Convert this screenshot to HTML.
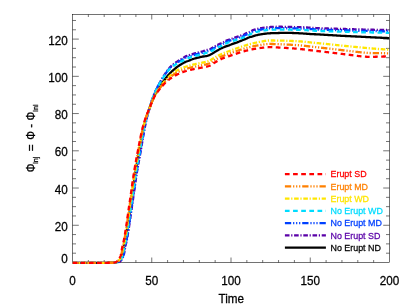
<!DOCTYPE html>
<html><head><meta charset="utf-8"><title>Injected flux</title>
<style>html,body{margin:0;padding:0;background:#fff;}svg{display:block;will-change:transform;}text{font-family:"Liberation Sans",sans-serif;fill:#000;}</style></head><body>
<svg width="407" height="306" viewBox="0 0 407 306">
<defs><clipPath id="c"><rect x="72.5" y="13.5" width="317.0" height="250.4"/></clipPath></defs>
<g stroke="#000" stroke-width="0.55" fill="none">
<rect x="72.5" y="14.5" width="317.0" height="248.0"/>
<path d="M88.35,262.5 v-2.5 M88.35,14.5 v2.5"/>
<path d="M104.20,262.5 v-2.5 M104.20,14.5 v2.5"/>
<path d="M120.05,262.5 v-2.5 M120.05,14.5 v2.5"/>
<path d="M135.90,262.5 v-2.5 M135.90,14.5 v2.5"/>
<path d="M151.75,262.5 v-5.0 M151.75,14.5 v5.0"/>
<path d="M167.60,262.5 v-2.5 M167.60,14.5 v2.5"/>
<path d="M183.45,262.5 v-2.5 M183.45,14.5 v2.5"/>
<path d="M199.30,262.5 v-2.5 M199.30,14.5 v2.5"/>
<path d="M215.15,262.5 v-2.5 M215.15,14.5 v2.5"/>
<path d="M231.00,262.5 v-5.0 M231.00,14.5 v5.0"/>
<path d="M246.85,262.5 v-2.5 M246.85,14.5 v2.5"/>
<path d="M262.70,262.5 v-2.5 M262.70,14.5 v2.5"/>
<path d="M278.55,262.5 v-2.5 M278.55,14.5 v2.5"/>
<path d="M294.40,262.5 v-2.5 M294.40,14.5 v2.5"/>
<path d="M310.25,262.5 v-5.0 M310.25,14.5 v5.0"/>
<path d="M326.10,262.5 v-2.5 M326.10,14.5 v2.5"/>
<path d="M341.95,262.5 v-2.5 M341.95,14.5 v2.5"/>
<path d="M357.80,262.5 v-2.5 M357.80,14.5 v2.5"/>
<path d="M373.65,262.5 v-2.5 M373.65,14.5 v2.5"/>
<path d="M72.5,253.19 h3.5 M389.5,253.19 h-3.5"/>
<path d="M72.5,243.88 h3.5 M389.5,243.88 h-3.5"/>
<path d="M72.5,234.57 h3.5 M389.5,234.57 h-3.5"/>
<path d="M72.5,225.27 h6.3 M389.5,225.27 h-6.3"/>
<path d="M72.5,215.96 h3.5 M389.5,215.96 h-3.5"/>
<path d="M72.5,206.65 h3.5 M389.5,206.65 h-3.5"/>
<path d="M72.5,197.34 h3.5 M389.5,197.34 h-3.5"/>
<path d="M72.5,188.03 h6.3 M389.5,188.03 h-6.3"/>
<path d="M72.5,178.72 h3.5 M389.5,178.72 h-3.5"/>
<path d="M72.5,169.42 h3.5 M389.5,169.42 h-3.5"/>
<path d="M72.5,160.11 h3.5 M389.5,160.11 h-3.5"/>
<path d="M72.5,150.80 h6.3 M389.5,150.80 h-6.3"/>
<path d="M72.5,141.49 h3.5 M389.5,141.49 h-3.5"/>
<path d="M72.5,132.18 h3.5 M389.5,132.18 h-3.5"/>
<path d="M72.5,122.87 h3.5 M389.5,122.87 h-3.5"/>
<path d="M72.5,113.56 h6.3 M389.5,113.56 h-6.3"/>
<path d="M72.5,104.26 h3.5 M389.5,104.26 h-3.5"/>
<path d="M72.5,94.95 h3.5 M389.5,94.95 h-3.5"/>
<path d="M72.5,85.64 h3.5 M389.5,85.64 h-3.5"/>
<path d="M72.5,76.33 h6.3 M389.5,76.33 h-6.3"/>
<path d="M72.5,67.02 h3.5 M389.5,67.02 h-3.5"/>
<path d="M72.5,57.71 h3.5 M389.5,57.71 h-3.5"/>
<path d="M72.5,48.40 h3.5 M389.5,48.40 h-3.5"/>
<path d="M72.5,39.10 h6.3 M389.5,39.10 h-6.3"/>
<path d="M72.5,29.79 h3.5 M389.5,29.79 h-3.5"/>
<path d="M72.5,20.48 h3.5 M389.5,20.48 h-3.5"/>
</g>
<g clip-path="url(#c)" fill="none" stroke-linejoin="round">
<path d="M72.50,262.80 L73.29,262.80 L74.08,262.80 L74.87,262.80 L75.66,262.80 L76.45,262.80 L77.24,262.80 L78.03,262.80 L78.82,262.80 L79.60,262.80 L80.39,262.80 L81.18,262.80 L81.97,262.80 L82.76,262.80 L83.55,262.80 L84.34,262.80 L85.13,262.80 L85.92,262.80 L86.71,262.80 L87.50,262.80 L88.29,262.80 L89.08,262.80 L89.87,262.80 L90.66,262.80 L91.45,262.80 L92.24,262.80 L93.03,262.80 L93.81,262.80 L94.60,262.80 L95.39,262.80 L96.18,262.80 L96.97,262.80 L97.76,262.80 L98.55,262.80 L99.34,262.80 L100.13,262.80 L100.92,262.80 L101.71,262.80 L102.50,262.80 L103.29,262.80 L104.09,262.79 L104.88,262.79 L105.67,262.79 L106.46,262.78 L107.26,262.78 L108.05,262.77 L108.84,262.77 L109.63,262.76 L110.42,262.75 L111.20,262.74 L111.99,262.73 L112.77,262.72 L113.55,262.71 L114.34,262.69 L115.14,262.60 L115.94,262.45 L116.71,262.25 L117.44,262.02 L118.11,261.68 L118.75,261.17 L119.33,260.59 L119.82,260.00 L120.26,259.35 L120.66,258.65 L121.03,257.95 L121.38,257.24 L121.72,256.52 L122.01,255.78 L122.24,255.04 L122.43,254.28 L122.60,253.51 L122.74,252.74 L122.87,251.96 L123.00,251.18 L123.12,250.39 L123.25,249.60 L123.38,248.82 L123.52,248.04 L123.68,247.27 L123.85,246.50 L124.02,245.73 L124.20,244.96 L124.38,244.19 L124.56,243.42 L124.74,242.65 L124.91,241.88 L125.08,241.11 L125.24,240.34 L125.38,239.56 L125.53,238.79 L125.67,238.01 L125.81,237.24 L125.95,236.46 L126.08,235.68 L126.22,234.91 L126.35,234.13 L126.48,233.35 L126.61,232.57 L126.74,231.79 L126.87,231.02 L126.99,230.24 L127.12,229.46 L127.24,228.68 L127.36,227.90 L127.49,227.12 L127.61,226.34 L127.72,225.56 L127.84,224.78 L127.96,224.00 L128.07,223.22 L128.19,222.43 L128.30,221.65 L128.42,220.87 L128.53,220.09 L128.64,219.31 L128.76,218.53 L128.87,217.74 L128.98,216.96 L129.09,216.18 L129.20,215.40 L129.31,214.61 L129.42,213.83 L129.53,213.05 L129.64,212.27 L129.75,211.48 L129.86,210.70 L129.97,209.92 L130.08,209.14 L130.19,208.36 L130.30,207.57 L130.41,206.79 L130.52,206.01 L130.64,205.23 L130.75,204.45 L130.86,203.66 L130.97,202.88 L131.09,202.10 L131.20,201.32 L131.32,200.54 L131.44,199.76 L131.55,198.98 L131.67,198.20 L131.78,197.42 L131.90,196.63 L132.01,195.85 L132.12,195.07 L132.23,194.29 L132.34,193.51 L132.46,192.73 L132.57,191.94 L132.68,191.16 L132.79,190.38 L132.90,189.60 L133.01,188.82 L133.12,188.04 L133.23,187.25 L133.34,186.47 L133.45,185.69 L133.56,184.91 L133.67,184.13 L133.78,183.35 L133.89,182.56 L134.01,181.78 L134.12,181.00 L134.23,180.22 L134.35,179.44 L134.46,178.66 L134.58,177.88 L134.69,177.10 L134.81,176.32 L134.93,175.53 L135.05,174.75 L135.17,173.97 L135.29,173.19 L135.41,172.42 L135.54,171.64 L135.66,170.86 L135.79,170.08 L135.92,169.30 L136.05,168.52 L136.18,167.74 L136.31,166.96 L136.45,166.19 L136.58,165.41 L136.72,164.63 L136.86,163.86 L137.00,163.08 L137.14,162.30 L137.29,161.53 L137.43,160.75 L137.57,159.97 L137.72,159.20 L137.86,158.42 L138.01,157.64 L138.15,156.87 L138.30,156.09 L138.44,155.32 L138.59,154.54 L138.73,153.76 L138.87,152.99 L139.01,152.21 L139.15,151.43 L139.29,150.65 L139.43,149.88 L139.57,149.10 L139.71,148.32 L139.85,147.54 L139.99,146.77 L140.13,145.99 L140.27,145.21 L140.41,144.43 L140.55,143.65 L140.69,142.88 L140.83,142.10 L140.97,141.32 L141.11,140.54 L141.26,139.77 L141.40,138.99 L141.55,138.21 L141.69,137.44 L141.84,136.66 L141.99,135.89 L142.14,135.11 L142.29,134.34 L142.45,133.56 L142.60,132.79 L142.76,132.02 L142.92,131.24 L143.08,130.47 L143.25,129.70 L143.41,128.93 L143.58,128.16 L143.75,127.39 L143.92,126.62 L144.10,125.85 L144.28,125.09 L144.46,124.32 L144.65,123.55 L144.85,122.79 L145.05,122.03 L145.26,121.26 L145.47,120.50 L145.68,119.74 L145.90,118.98 L146.12,118.22 L146.35,117.47 L146.58,116.71 L146.81,115.96 L147.05,115.21 L147.29,114.46 L147.54,113.71 L147.80,112.96 L148.06,112.21 L148.32,111.47 L148.59,110.73 L148.86,109.98 L149.13,109.24 L149.40,108.50 L149.67,107.76 L149.94,107.02 L150.21,106.27 L150.48,105.53 L150.75,104.79 L151.03,104.05 L151.30,103.31 L151.58,102.57 L151.86,101.83 L152.15,101.09 L152.44,100.36 L152.74,99.63 L153.04,98.90 L153.35,98.18 L153.67,97.46 L154.00,96.74 L154.34,96.03 L154.69,95.32 L155.04,94.61 L155.40,93.91 L155.76,93.20 L156.13,92.50 L156.50,91.81 L156.87,91.11 L157.25,90.42 L157.63,89.73 L158.02,89.04 L158.41,88.35 L158.82,87.67 L159.23,87.00 L159.65,86.33 L160.08,85.68 L160.53,85.03 L160.99,84.39 L161.47,83.76 L161.95,83.14 L162.44,82.52 L162.94,81.90 L163.43,81.28 L163.92,80.66 L164.40,80.03 L164.88,79.41 L165.36,78.77 L165.83,78.14 L166.31,77.51 L166.80,76.89 L167.30,76.28 L167.80,75.68 L168.32,75.09 L168.85,74.50 L169.39,73.92 L169.94,73.35 L170.50,72.79 L171.06,72.23 L171.62,71.69 L172.19,71.14 L172.77,70.60 L173.36,70.07 L173.95,69.54 L174.54,69.02 L175.15,68.51 L175.76,68.01 L176.38,67.52 L177.00,67.05 L177.64,66.59 L178.29,66.14 L178.94,65.70 L179.61,65.26 L180.28,64.84 L180.95,64.42 L181.63,64.02 L182.31,63.62 L183.00,63.23 L183.69,62.84 L184.38,62.47 L185.09,62.11 L185.81,61.78 L186.54,61.50 L187.29,61.24 L188.04,61.00 L188.78,60.73 L189.51,60.42 L190.23,60.10 L190.95,59.77 L191.68,59.48 L192.42,59.22 L193.17,58.98 L193.93,58.74 L194.69,58.52 L195.45,58.31 L196.21,58.11 L196.98,57.91 L197.74,57.71 L198.51,57.52 L199.28,57.33 L200.04,57.15 L200.81,56.97 L201.59,56.80 L202.36,56.64 L203.14,56.49 L203.91,56.37 L204.70,56.27 L205.48,56.18 L206.26,56.05 L207.03,55.88 L207.80,55.66 L208.55,55.42 L209.28,55.15 L210.00,54.83 L210.70,54.46 L211.40,54.08 L212.09,53.69 L212.76,53.29 L213.43,52.86 L214.10,52.43 L214.77,52.02 L215.45,51.62 L216.14,51.23 L216.83,50.85 L217.52,50.46 L218.20,50.07 L218.87,49.65 L219.55,49.24 L220.23,48.85 L220.93,48.49 L221.65,48.16 L222.37,47.85 L223.10,47.55 L223.83,47.24 L224.56,46.93 L225.29,46.62 L226.02,46.32 L226.75,46.04 L227.50,45.79 L228.25,45.55 L229.01,45.31 L229.75,45.05 L230.49,44.76 L231.22,44.47 L231.95,44.18 L232.70,43.91 L233.44,43.64 L234.19,43.38 L234.93,43.12 L235.68,42.87 L236.42,42.60 L237.17,42.34 L237.90,42.06 L238.64,41.77 L239.37,41.48 L240.10,41.18 L240.83,40.88 L241.56,40.58 L242.29,40.27 L243.02,39.97 L243.75,39.68 L244.49,39.39 L245.23,39.11 L245.96,38.82 L246.68,38.50 L247.40,38.15 L248.11,37.81 L248.83,37.49 L249.57,37.21 L250.32,36.99 L251.09,36.80 L251.86,36.61 L252.62,36.40 L253.37,36.17 L254.13,35.93 L254.88,35.70 L255.64,35.47 L256.40,35.25 L257.16,35.05 L257.93,34.87 L258.70,34.71 L259.47,34.56 L260.25,34.42 L261.03,34.29 L261.81,34.17 L262.59,34.05 L263.37,33.94 L264.16,33.84 L264.94,33.74 L265.72,33.65 L266.51,33.56 L267.30,33.48 L268.08,33.41 L268.87,33.34 L269.66,33.30 L270.44,33.26 L271.23,33.22 L272.02,33.19 L272.81,33.17 L273.60,33.14 L274.39,33.12 L275.18,33.10 L275.97,33.08 L276.76,33.05 L277.55,33.03 L278.34,33.01 L279.12,32.98 L279.91,32.95 L280.70,32.92 L281.49,32.89 L282.28,32.86 L283.07,32.83 L283.86,32.81 L284.65,32.80 L285.44,32.80 L286.23,32.81 L287.02,32.82 L287.80,32.84 L288.59,32.86 L289.38,32.88 L290.17,32.90 L290.96,32.93 L291.75,32.95 L292.54,32.98 L293.33,33.00 L294.12,33.03 L294.91,33.06 L295.70,33.10 L296.48,33.13 L297.27,33.17 L298.06,33.20 L298.85,33.24 L299.64,33.28 L300.43,33.32 L301.21,33.37 L302.00,33.42 L302.79,33.47 L303.58,33.53 L304.36,33.59 L305.15,33.65 L305.94,33.71 L306.73,33.77 L307.51,33.83 L308.30,33.89 L309.09,33.94 L309.88,33.99 L310.66,34.04 L311.45,34.08 L312.24,34.12 L313.03,34.16 L313.82,34.20 L314.61,34.24 L315.39,34.27 L316.18,34.31 L316.97,34.35 L317.76,34.39 L318.55,34.42 L319.34,34.46 L320.13,34.51 L320.91,34.55 L321.70,34.60 L322.49,34.64 L323.28,34.69 L324.07,34.74 L324.85,34.78 L325.64,34.83 L326.43,34.88 L327.22,34.93 L328.01,34.98 L328.79,35.03 L329.58,35.07 L330.37,35.12 L331.16,35.17 L331.95,35.22 L332.73,35.27 L333.52,35.32 L334.31,35.36 L335.10,35.41 L335.88,35.46 L336.67,35.51 L337.46,35.55 L338.25,35.60 L339.04,35.65 L339.83,35.69 L340.61,35.73 L341.40,35.78 L342.19,35.82 L342.98,35.86 L343.77,35.90 L344.55,35.94 L345.34,35.98 L346.13,36.02 L346.92,36.06 L347.71,36.10 L348.50,36.14 L349.29,36.18 L350.07,36.22 L350.86,36.25 L351.65,36.29 L352.44,36.33 L353.23,36.37 L354.02,36.41 L354.81,36.45 L355.59,36.48 L356.38,36.52 L357.17,36.56 L357.96,36.60 L358.75,36.64 L359.54,36.68 L360.32,36.72 L361.11,36.76 L361.90,36.80 L362.69,36.84 L363.48,36.88 L364.27,36.92 L365.05,36.96 L365.84,37.00 L366.63,37.04 L367.42,37.08 L368.21,37.12 L369.00,37.16 L369.79,37.20 L370.57,37.24 L371.36,37.28 L372.15,37.32 L372.94,37.36 L373.73,37.40 L374.52,37.44 L375.30,37.48 L376.09,37.52 L376.88,37.55 L377.67,37.59 L378.46,37.63 L379.25,37.67 L380.04,37.70 L380.82,37.74 L381.61,37.77 L382.40,37.81 L383.19,37.84 L383.98,37.87 L384.77,37.91 L385.56,37.94 L386.34,37.97 L387.13,38.01 L387.92,38.04 L388.71,38.07 L389.50,38.10" stroke="#000000" stroke-width="2.3"/>
<path d="M72.50,262.80 L73.30,262.80 L74.10,262.80 L74.90,262.80 L75.70,262.80 L76.50,262.80 L77.30,262.80 L78.10,262.80 L78.90,262.80 L79.70,262.80 L80.50,262.80 L81.30,262.80 L82.10,262.80 L82.90,262.80 L83.70,262.80 L84.49,262.80 L85.29,262.80 L86.09,262.80 L86.89,262.80 L87.69,262.80 L88.49,262.80 L89.29,262.80 L90.09,262.80 L90.89,262.80 L91.69,262.80 L92.49,262.80 L93.29,262.80 L94.09,262.80 L94.89,262.80 L95.69,262.80 L96.49,262.80 L97.29,262.80 L98.09,262.80 L98.89,262.80 L99.69,262.80 L100.49,262.80 L101.29,262.80 L102.09,262.80 L102.89,262.80 L103.69,262.79 L104.49,262.79 L105.29,262.79 L106.09,262.78 L106.89,262.78 L107.70,262.77 L108.50,262.77 L109.30,262.76 L110.09,262.75 L110.89,262.74 L111.69,262.73 L112.49,262.72 L113.29,262.71 L114.08,262.70 L114.89,262.66 L115.72,262.60 L116.54,262.50 L117.35,262.37 L118.12,262.22 L118.85,262.04 L119.54,261.75 L120.19,261.25 L120.78,260.64 L121.29,260.05 L121.74,259.39 L122.14,258.68 L122.52,257.97 L122.88,257.25 L123.22,256.52 L123.52,255.78 L123.75,255.02 L123.94,254.26 L124.10,253.48 L124.25,252.69 L124.38,251.90 L124.51,251.11 L124.63,250.31 L124.76,249.52 L124.89,248.72 L125.04,247.94 L125.20,247.15 L125.38,246.37 L125.55,245.59 L125.73,244.81 L125.92,244.03 L126.10,243.26 L126.28,242.48 L126.45,241.70 L126.62,240.91 L126.78,240.13 L126.92,239.35 L127.07,238.56 L127.21,237.78 L127.35,236.99 L127.49,236.20 L127.63,235.42 L127.77,234.63 L127.90,233.84 L128.03,233.05 L128.16,232.27 L128.29,231.48 L128.42,230.69 L128.55,229.90 L128.67,229.11 L128.80,228.32 L128.92,227.53 L129.04,226.74 L129.16,225.95 L129.28,225.16 L129.40,224.37 L129.52,223.58 L129.64,222.78 L129.75,221.99 L129.87,221.20 L129.99,220.41 L130.10,219.62 L130.21,218.83 L130.33,218.03 L130.44,217.24 L130.55,216.45 L130.66,215.66 L130.78,214.86 L130.89,214.07 L131.00,213.28 L131.11,212.49 L131.22,211.69 L131.33,210.90 L131.44,210.11 L131.56,209.32 L131.67,208.52 L131.78,207.73 L131.89,206.94 L132.00,206.15 L132.12,205.36 L132.23,204.56 L132.35,203.77 L132.46,202.98 L132.58,202.19 L132.69,201.40 L132.81,200.61 L132.93,199.82 L133.05,199.02 L133.16,198.23 L133.28,197.44 L133.39,196.65 L133.51,195.86 L133.62,195.07 L133.73,194.28 L133.85,193.48 L133.96,192.69 L134.07,191.90 L134.18,191.11 L134.30,190.32 L134.41,189.52 L134.52,188.73 L134.63,187.94 L134.74,187.15 L134.86,186.36 L134.97,185.56 L135.08,184.77 L135.19,183.98 L135.30,183.19 L135.42,182.40 L135.53,181.61 L135.65,180.81 L135.76,180.02 L135.88,179.23 L135.99,178.44 L136.11,177.65 L136.23,176.86 L136.35,176.07 L136.47,175.28 L136.59,174.49 L136.71,173.70 L136.83,172.91 L136.96,172.12 L137.08,171.33 L137.21,170.54 L137.34,169.75 L137.47,168.96 L137.61,168.17 L137.74,167.39 L137.88,166.60 L138.02,165.81 L138.16,165.02 L138.30,164.24 L138.45,163.45 L138.59,162.66 L138.74,161.88 L138.88,161.09 L139.03,160.31 L139.17,159.52 L139.32,158.73 L139.46,157.95 L139.61,157.16 L139.75,156.37 L139.90,155.59 L140.04,154.80 L140.18,154.01 L140.31,153.22 L140.45,152.44 L140.59,151.65 L140.73,150.86 L140.86,150.07 L141.00,149.28 L141.13,148.49 L141.26,147.71 L141.40,146.92 L141.53,146.13 L141.66,145.34 L141.80,144.55 L141.93,143.76 L142.06,142.97 L142.20,142.18 L142.33,141.40 L142.46,140.61 L142.60,139.82 L142.73,139.03 L142.87,138.24 L143.00,137.45 L143.14,136.67 L143.28,135.88 L143.41,135.09 L143.55,134.30 L143.69,133.51 L143.83,132.73 L143.98,131.94 L144.12,131.15 L144.27,130.37 L144.41,129.58 L144.56,128.80 L144.71,128.01 L144.86,127.23 L145.01,126.44 L145.17,125.66 L145.33,124.88 L145.48,124.09 L145.64,123.31 L145.81,122.53 L145.97,121.74 L146.14,120.96 L146.31,120.18 L146.49,119.40 L146.67,118.62 L146.85,117.84 L147.04,117.06 L147.23,116.29 L147.43,115.51 L147.63,114.74 L147.84,113.97 L148.06,113.20 L148.29,112.43 L148.52,111.67 L148.75,110.90 L148.98,110.14 L149.22,109.37 L149.45,108.61 L149.69,107.84 L149.92,107.08 L150.15,106.31 L150.38,105.54 L150.61,104.78 L150.84,104.01 L151.07,103.24 L151.30,102.47 L151.53,101.71 L151.77,100.95 L152.01,100.18 L152.26,99.42 L152.52,98.67 L152.78,97.91 L153.05,97.16 L153.33,96.42 L153.61,95.67 L153.91,94.93 L154.21,94.18 L154.51,93.44 L154.82,92.71 L155.14,91.97 L155.47,91.24 L155.80,90.51 L156.13,89.78 L156.47,89.05 L156.81,88.33 L157.16,87.62 L157.51,86.90 L157.87,86.19 L158.25,85.48 L158.62,84.78 L159.01,84.08 L159.40,83.38 L159.80,82.68 L160.20,81.99 L160.60,81.29 L161.00,80.60 L161.41,79.91 L161.81,79.22 L162.22,78.53 L162.63,77.85 L163.04,77.16 L163.46,76.48 L163.88,75.80 L164.31,75.12 L164.74,74.45 L165.18,73.78 L165.62,73.12 L166.07,72.45 L166.52,71.79 L166.98,71.14 L167.45,70.49 L167.93,69.85 L168.42,69.22 L168.92,68.59 L169.43,67.96 L169.95,67.36 L170.49,66.77 L171.06,66.22 L171.64,65.68 L172.24,65.17 L172.86,64.66 L173.50,64.17 L174.14,63.68 L174.80,63.21 L175.45,62.75 L176.12,62.29 L176.78,61.84 L177.44,61.40 L178.12,60.98 L178.80,60.57 L179.49,60.16 L180.18,59.76 L180.88,59.36 L181.57,58.96 L182.26,58.55 L182.94,58.13 L183.62,57.69 L184.29,57.24 L184.96,56.81 L185.65,56.42 L186.37,56.09 L187.10,55.79 L187.85,55.52 L188.61,55.26 L189.37,55.02 L190.15,54.78 L190.92,54.55 L191.68,54.32 L192.45,54.08 L193.21,53.85 L193.98,53.62 L194.75,53.40 L195.52,53.18 L196.29,52.96 L197.06,52.75 L197.83,52.54 L198.61,52.34 L199.38,52.15 L200.17,51.97 L200.95,51.79 L201.72,51.60 L202.50,51.40 L203.26,51.18 L204.02,50.94 L204.76,50.62 L205.50,50.31 L206.26,50.09 L207.05,49.93 L207.86,49.81 L208.65,49.68 L209.42,49.50 L210.13,49.22 L210.81,48.79 L211.48,48.32 L212.17,47.89 L212.86,47.49 L213.55,47.08 L214.24,46.68 L214.93,46.28 L215.63,45.89 L216.33,45.51 L217.04,45.14 L217.75,44.77 L218.47,44.43 L219.20,44.11 L219.94,43.80 L220.69,43.50 L221.43,43.19 L222.17,42.88 L222.89,42.55 L223.61,42.20 L224.30,41.80 L224.97,41.35 L225.65,40.93 L226.36,40.59 L227.09,40.28 L227.84,40.00 L228.59,39.73 L229.35,39.48 L230.12,39.24 L230.89,38.99 L231.65,38.74 L232.41,38.48 L233.16,38.22 L233.92,37.96 L234.68,37.71 L235.44,37.45 L236.19,37.20 L236.95,36.94 L237.71,36.68 L238.47,36.42 L239.23,36.17 L239.99,35.92 L240.75,35.66 L241.51,35.40 L242.26,35.13 L243.00,34.84 L243.73,34.53 L244.45,34.18 L245.15,33.79 L245.86,33.42 L246.59,33.10 L247.34,32.82 L248.10,32.55 L248.85,32.27 L249.58,31.96 L250.28,31.58 L250.97,31.15 L251.66,30.76 L252.39,30.45 L253.13,30.17 L253.89,29.92 L254.66,29.67 L255.43,29.45 L256.21,29.24 L256.99,29.04 L257.76,28.86 L258.54,28.68 L259.32,28.52 L260.11,28.36 L260.90,28.21 L261.68,28.07 L262.47,27.94 L263.26,27.81 L264.06,27.70 L264.85,27.58 L265.64,27.47 L266.43,27.36 L267.23,27.26 L268.02,27.17 L268.82,27.10 L269.62,27.05 L270.41,27.01 L271.21,26.97 L272.01,26.93 L272.81,26.89 L273.61,26.86 L274.41,26.83 L275.21,26.80 L276.01,26.78 L276.81,26.77 L277.61,26.75 L278.41,26.75 L279.21,26.75 L280.01,26.76 L280.80,26.76 L281.60,26.77 L282.40,26.79 L283.20,26.80 L284.00,26.82 L284.80,26.83 L285.60,26.85 L286.40,26.87 L287.20,26.89 L288.00,26.91 L288.80,26.93 L289.60,26.94 L290.40,26.96 L291.20,26.97 L292.00,26.99 L292.80,27.00 L293.60,27.01 L294.40,27.03 L295.20,27.04 L296.00,27.06 L296.80,27.07 L297.60,27.09 L298.40,27.11 L299.19,27.13 L299.99,27.15 L300.79,27.17 L301.59,27.20 L302.39,27.24 L303.19,27.27 L303.99,27.31 L304.79,27.35 L305.58,27.40 L306.38,27.44 L307.18,27.49 L307.98,27.54 L308.78,27.59 L309.58,27.64 L310.37,27.70 L311.17,27.75 L311.97,27.80 L312.77,27.85 L313.57,27.91 L314.36,27.96 L315.16,28.00 L315.96,28.05 L316.76,28.10 L317.56,28.14 L318.36,28.18 L319.16,28.22 L319.95,28.25 L320.75,28.28 L321.55,28.31 L322.35,28.34 L323.15,28.36 L323.95,28.39 L324.75,28.42 L325.55,28.44 L326.35,28.47 L327.15,28.49 L327.95,28.51 L328.75,28.54 L329.54,28.56 L330.34,28.58 L331.14,28.60 L331.94,28.63 L332.74,28.65 L333.54,28.67 L334.34,28.69 L335.14,28.71 L335.94,28.73 L336.74,28.76 L337.54,28.78 L338.34,28.80 L339.14,28.82 L339.94,28.85 L340.74,28.87 L341.54,28.90 L342.33,28.92 L343.13,28.95 L343.93,28.97 L344.73,29.00 L345.53,29.02 L346.33,29.05 L347.13,29.07 L347.93,29.10 L348.73,29.12 L349.53,29.15 L350.33,29.17 L351.13,29.20 L351.93,29.22 L352.73,29.25 L353.52,29.27 L354.32,29.30 L355.12,29.32 L355.92,29.34 L356.72,29.36 L357.52,29.39 L358.32,29.41 L359.12,29.43 L359.92,29.45 L360.72,29.47 L361.52,29.49 L362.32,29.51 L363.12,29.53 L363.92,29.54 L364.72,29.56 L365.51,29.58 L366.31,29.60 L367.11,29.62 L367.91,29.64 L368.71,29.66 L369.51,29.67 L370.31,29.69 L371.11,29.71 L371.91,29.73 L372.71,29.74 L373.51,29.76 L374.31,29.78 L375.11,29.79 L375.91,29.81 L376.71,29.83 L377.51,29.84 L378.31,29.86 L379.11,29.87 L379.91,29.89 L380.70,29.90 L381.50,29.92 L382.30,29.93 L383.10,29.95 L383.90,29.96 L384.70,29.97 L385.50,29.99 L386.30,30.00 L387.10,30.01 L387.90,30.03 L388.70,30.04 L389.50,30.05" stroke="#5a00a8" stroke-width="2.3" stroke-dasharray="4.6 1.7 1.2 1.7"/>
<path d="M72.50,262.80 L73.30,262.80 L74.10,262.80 L74.89,262.80 L75.69,262.80 L76.49,262.80 L77.29,262.80 L78.08,262.80 L78.88,262.80 L79.68,262.80 L80.48,262.80 L81.27,262.80 L82.07,262.80 L82.87,262.80 L83.67,262.80 L84.47,262.80 L85.26,262.80 L86.06,262.80 L86.86,262.80 L87.66,262.80 L88.45,262.80 L89.25,262.80 L90.05,262.80 L90.85,262.80 L91.64,262.80 L92.44,262.80 L93.24,262.80 L94.04,262.80 L94.83,262.80 L95.63,262.80 L96.43,262.80 L97.23,262.80 L98.03,262.80 L98.82,262.80 L99.62,262.80 L100.42,262.80 L101.22,262.80 L102.02,262.80 L102.81,262.80 L103.61,262.79 L104.41,262.79 L105.21,262.79 L106.01,262.78 L106.81,262.78 L107.61,262.77 L108.41,262.77 L109.21,262.76 L110.00,262.75 L110.80,262.74 L111.60,262.73 L112.39,262.72 L113.19,262.71 L113.98,262.70 L114.78,262.67 L115.60,262.60 L116.42,262.49 L117.23,262.35 L117.99,262.19 L118.71,262.00 L119.39,261.65 L120.03,261.11 L120.60,260.51 L121.09,259.91 L121.53,259.24 L121.92,258.53 L122.29,257.82 L122.65,257.10 L122.98,256.37 L123.27,255.62 L123.49,254.87 L123.67,254.10 L123.83,253.33 L123.98,252.54 L124.11,251.75 L124.23,250.96 L124.36,250.16 L124.48,249.37 L124.62,248.58 L124.77,247.80 L124.93,247.02 L125.11,246.24 L125.28,245.46 L125.47,244.68 L125.65,243.91 L125.83,243.13 L126.01,242.35 L126.18,241.57 L126.34,240.79 L126.50,240.01 L126.64,239.23 L126.79,238.44 L126.93,237.66 L127.07,236.88 L127.21,236.09 L127.35,235.31 L127.48,234.52 L127.62,233.74 L127.75,232.95 L127.88,232.16 L128.01,231.38 L128.14,230.59 L128.26,229.80 L128.39,229.02 L128.51,228.23 L128.64,227.44 L128.76,226.65 L128.88,225.86 L129.00,225.07 L129.12,224.28 L129.23,223.50 L129.35,222.71 L129.47,221.92 L129.58,221.13 L129.70,220.34 L129.81,219.55 L129.92,218.76 L130.04,217.97 L130.15,217.18 L130.26,216.39 L130.37,215.60 L130.48,214.81 L130.60,214.01 L130.71,213.22 L130.82,212.43 L130.93,211.64 L131.04,210.85 L131.15,210.06 L131.26,209.27 L131.37,208.48 L131.49,207.69 L131.60,206.90 L131.71,206.11 L131.82,205.32 L131.94,204.53 L132.05,203.74 L132.17,202.95 L132.28,202.16 L132.40,201.37 L132.51,200.58 L132.63,199.79 L132.75,199.00 L132.86,198.22 L132.98,197.43 L133.09,196.64 L133.21,195.85 L133.32,195.06 L133.44,194.27 L133.55,193.48 L133.66,192.69 L133.77,191.90 L133.88,191.11 L134.00,190.32 L134.11,189.53 L134.22,188.74 L134.33,187.95 L134.44,187.16 L134.55,186.37 L134.67,185.58 L134.78,184.79 L134.89,184.00 L135.00,183.21 L135.12,182.42 L135.23,181.63 L135.34,180.84 L135.46,180.05 L135.57,179.26 L135.69,178.47 L135.81,177.68 L135.92,176.89 L136.04,176.11 L136.16,175.32 L136.28,174.53 L136.40,173.74 L136.53,172.95 L136.65,172.17 L136.78,171.38 L136.90,170.59 L137.03,169.80 L137.16,169.02 L137.30,168.23 L137.43,167.44 L137.57,166.66 L137.71,165.87 L137.85,165.09 L137.99,164.30 L138.13,163.52 L138.28,162.73 L138.42,161.95 L138.57,161.16 L138.71,160.38 L138.86,159.60 L139.00,158.81 L139.15,158.03 L139.29,157.24 L139.44,156.46 L139.58,155.67 L139.72,154.89 L139.86,154.10 L140.00,153.32 L140.14,152.53 L140.28,151.75 L140.41,150.96 L140.55,150.17 L140.69,149.39 L140.82,148.60 L140.96,147.81 L141.09,147.03 L141.23,146.24 L141.36,145.45 L141.49,144.67 L141.63,143.88 L141.76,143.09 L141.90,142.31 L142.03,141.52 L142.17,140.73 L142.30,139.95 L142.44,139.16 L142.58,138.38 L142.72,137.59 L142.85,136.80 L142.99,136.02 L143.13,135.23 L143.28,134.45 L143.42,133.66 L143.56,132.88 L143.71,132.10 L143.85,131.31 L144.00,130.53 L144.15,129.75 L144.30,128.96 L144.46,128.18 L144.61,127.40 L144.77,126.62 L144.93,125.84 L145.09,125.06 L145.25,124.28 L145.42,123.50 L145.59,122.72 L145.76,121.94 L145.94,121.16 L146.11,120.38 L146.30,119.60 L146.48,118.83 L146.67,118.05 L146.87,117.28 L147.07,116.51 L147.27,115.74 L147.48,114.97 L147.70,114.20 L147.93,113.44 L148.16,112.67 L148.39,111.91 L148.63,111.15 L148.87,110.39 L149.12,109.63 L149.36,108.87 L149.60,108.11 L149.84,107.34 L150.07,106.58 L150.30,105.82 L150.53,105.05 L150.76,104.29 L150.99,103.52 L151.22,102.75 L151.45,101.99 L151.68,101.23 L151.92,100.47 L152.17,99.71 L152.42,98.95 L152.68,98.20 L152.94,97.45 L153.22,96.71 L153.51,95.96 L153.80,95.22 L154.10,94.48 L154.41,93.74 L154.72,93.01 L155.04,92.28 L155.37,91.55 L155.70,90.82 L156.04,90.09 L156.38,89.37 L156.73,88.66 L157.08,87.94 L157.44,87.23 L157.80,86.53 L158.18,85.82 L158.56,85.12 L158.95,84.43 L159.35,83.73 L159.75,83.04 L160.15,82.35 L160.56,81.66 L160.97,80.98 L161.38,80.29 L161.79,79.61 L162.21,78.93 L162.62,78.25 L163.04,77.57 L163.47,76.89 L163.90,76.22 L164.33,75.55 L164.77,74.89 L165.22,74.22 L165.66,73.57 L166.12,72.91 L166.58,72.26 L167.05,71.61 L167.53,70.97 L168.02,70.35 L168.52,69.72 L169.03,69.10 L169.55,68.49 L170.09,67.90 L170.65,67.34 L171.23,66.81 L171.83,66.29 L172.45,65.79 L173.08,65.31 L173.73,64.84 L174.39,64.38 L175.06,63.93 L175.73,63.49 L176.40,63.05 L177.07,62.63 L177.75,62.22 L178.44,61.82 L179.14,61.43 L179.84,61.05 L180.55,60.68 L181.25,60.30 L181.96,59.92 L182.65,59.53 L183.34,59.12 L184.02,58.70 L184.71,58.28 L185.40,57.89 L186.11,57.55 L186.84,57.25 L187.59,56.97 L188.34,56.71 L189.10,56.46 L189.87,56.22 L190.64,55.99 L191.40,55.75 L192.16,55.52 L192.93,55.28 L193.69,55.06 L194.46,54.83 L195.22,54.61 L195.99,54.40 L196.76,54.18 L197.53,53.97 L198.30,53.77 L199.08,53.58 L199.86,53.39 L200.63,53.21 L201.41,53.03 L202.19,52.83 L202.95,52.62 L203.71,52.40 L204.46,52.11 L205.19,51.79 L205.94,51.52 L206.72,51.34 L207.52,51.21 L208.32,51.09 L209.10,50.94 L209.83,50.71 L210.52,50.34 L211.19,49.87 L211.87,49.42 L212.55,49.02 L213.24,48.61 L213.93,48.21 L214.62,47.81 L215.32,47.42 L216.02,47.03 L216.72,46.65 L217.43,46.29 L218.14,45.94 L218.87,45.61 L219.60,45.29 L220.34,44.99 L221.08,44.69 L221.82,44.38 L222.55,44.06 L223.27,43.72 L223.97,43.35 L224.65,42.92 L225.32,42.48 L226.01,42.09 L226.73,41.78 L227.47,41.48 L228.22,41.21 L228.98,40.96 L229.74,40.71 L230.51,40.46 L231.27,40.21 L232.02,39.96 L232.78,39.70 L233.53,39.44 L234.29,39.19 L235.05,38.93 L235.80,38.68 L236.56,38.43 L237.31,38.17 L238.07,37.91 L238.83,37.65 L239.58,37.40 L240.34,37.15 L241.10,36.89 L241.86,36.63 L242.60,36.35 L243.34,36.05 L244.06,35.73 L244.77,35.35 L245.47,34.96 L246.18,34.62 L246.92,34.32 L247.68,34.05 L248.43,33.78 L249.17,33.49 L249.89,33.15 L250.58,32.74 L251.26,32.32 L251.97,31.97 L252.70,31.68 L253.45,31.41 L254.21,31.16 L254.98,30.93 L255.75,30.71 L256.53,30.51 L257.31,30.32 L258.08,30.14 L258.86,29.96 L259.64,29.80 L260.42,29.65 L261.21,29.50 L262.00,29.37 L262.79,29.24 L263.57,29.12 L264.36,29.00 L265.15,28.89 L265.94,28.78 L266.74,28.67 L267.53,28.58 L268.32,28.50 L269.12,28.43 L269.91,28.38 L270.71,28.34 L271.50,28.30 L272.30,28.26 L273.10,28.23 L273.89,28.20 L274.69,28.17 L275.49,28.14 L276.29,28.13 L277.09,28.11 L277.88,28.10 L278.68,28.10 L279.48,28.10 L280.28,28.11 L281.07,28.12 L281.87,28.13 L282.67,28.14 L283.47,28.16 L284.26,28.17 L285.06,28.19 L285.86,28.21 L286.66,28.23 L287.45,28.25 L288.25,28.26 L289.05,28.28 L289.85,28.30 L290.64,28.31 L291.44,28.33 L292.24,28.34 L293.04,28.35 L293.84,28.37 L294.63,28.38 L295.43,28.40 L296.23,28.41 L297.03,28.43 L297.82,28.45 L298.62,28.46 L299.42,28.48 L300.21,28.51 L301.01,28.53 L301.81,28.56 L302.61,28.59 L303.40,28.63 L304.20,28.67 L305.00,28.71 L305.79,28.76 L306.59,28.81 L307.38,28.85 L308.18,28.90 L308.98,28.96 L309.77,29.01 L310.57,29.06 L311.37,29.11 L312.16,29.17 L312.96,29.22 L313.75,29.27 L314.55,29.32 L315.35,29.37 L316.14,29.41 L316.94,29.46 L317.74,29.50 L318.53,29.54 L319.33,29.57 L320.13,29.60 L320.92,29.64 L321.72,29.66 L322.52,29.69 L323.31,29.72 L324.11,29.75 L324.91,29.77 L325.71,29.80 L326.50,29.82 L327.30,29.84 L328.10,29.87 L328.90,29.89 L329.69,29.91 L330.49,29.94 L331.29,29.96 L332.09,29.98 L332.88,30.00 L333.68,30.02 L334.48,30.04 L335.28,30.07 L336.07,30.09 L336.87,30.11 L337.67,30.13 L338.46,30.15 L339.26,30.18 L340.06,30.20 L340.86,30.23 L341.65,30.25 L342.45,30.27 L343.25,30.30 L344.05,30.32 L344.84,30.35 L345.64,30.38 L346.44,30.40 L347.24,30.43 L348.03,30.45 L348.83,30.48 L349.63,30.50 L350.42,30.53 L351.22,30.55 L352.02,30.58 L352.82,30.60 L353.61,30.62 L354.41,30.65 L355.21,30.67 L356.01,30.69 L356.80,30.72 L357.60,30.74 L358.40,30.76 L359.19,30.78 L359.99,30.80 L360.79,30.82 L361.59,30.84 L362.38,30.86 L363.18,30.88 L363.98,30.90 L364.78,30.91 L365.57,30.93 L366.37,30.95 L367.17,30.97 L367.97,30.99 L368.76,31.01 L369.56,31.02 L370.36,31.04 L371.16,31.06 L371.95,31.08 L372.75,31.09 L373.55,31.11 L374.35,31.13 L375.14,31.14 L375.94,31.16 L376.74,31.18 L377.54,31.19 L378.33,31.21 L379.13,31.22 L379.93,31.24 L380.73,31.25 L381.52,31.27 L382.32,31.28 L383.12,31.30 L383.92,31.31 L384.71,31.32 L385.51,31.34 L386.31,31.35 L387.11,31.36 L387.90,31.38 L388.70,31.39 L389.50,31.40" stroke="#0040ff" stroke-width="2.3" stroke-dasharray="6.3 1.9 1.2 1.8 1.2 1.8 1.2 1.9"/>
<path d="M72.50,262.80 L73.30,262.80 L74.09,262.80 L74.89,262.80 L75.68,262.80 L76.48,262.80 L77.27,262.80 L78.07,262.80 L78.86,262.80 L79.66,262.80 L80.45,262.80 L81.25,262.80 L82.04,262.80 L82.84,262.80 L83.63,262.80 L84.43,262.80 L85.22,262.80 L86.02,262.80 L86.82,262.80 L87.61,262.80 L88.41,262.80 L89.20,262.80 L90.00,262.80 L90.79,262.80 L91.59,262.80 L92.38,262.80 L93.18,262.80 L93.97,262.80 L94.77,262.80 L95.56,262.80 L96.36,262.80 L97.15,262.80 L97.95,262.80 L98.74,262.80 L99.54,262.80 L100.34,262.80 L101.13,262.80 L101.93,262.80 L102.72,262.80 L103.52,262.80 L104.32,262.79 L105.12,262.79 L105.91,262.79 L106.71,262.78 L107.51,262.78 L108.31,262.77 L109.10,262.76 L109.90,262.75 L110.69,262.75 L111.48,262.74 L112.28,262.73 L113.07,262.71 L113.86,262.70 L114.65,262.67 L115.47,262.59 L116.28,262.46 L117.07,262.29 L117.81,262.09 L118.50,261.82 L119.16,261.35 L119.76,260.77 L120.28,260.18 L120.74,259.54 L121.15,258.84 L121.53,258.13 L121.89,257.43 L122.24,256.70 L122.55,255.96 L122.80,255.22 L122.99,254.46 L123.16,253.69 L123.31,252.91 L123.45,252.13 L123.57,251.34 L123.70,250.54 L123.82,249.75 L123.95,248.96 L124.10,248.18 L124.25,247.40 L124.42,246.62 L124.60,245.84 L124.77,245.07 L124.96,244.29 L125.14,243.52 L125.32,242.74 L125.49,241.97 L125.66,241.19 L125.82,240.41 L125.97,239.63 L126.11,238.85 L126.26,238.07 L126.40,237.29 L126.54,236.51 L126.68,235.73 L126.81,234.94 L126.95,234.16 L127.08,233.38 L127.21,232.59 L127.34,231.81 L127.47,231.02 L127.59,230.24 L127.72,229.45 L127.84,228.67 L127.97,227.88 L128.09,227.10 L128.21,226.31 L128.33,225.53 L128.45,224.74 L128.57,223.95 L128.68,223.16 L128.80,222.38 L128.91,221.59 L129.03,220.80 L129.14,220.02 L129.26,219.23 L129.37,218.44 L129.48,217.65 L129.59,216.86 L129.70,216.08 L129.82,215.29 L129.93,214.50 L130.04,213.71 L130.15,212.92 L130.26,212.14 L130.37,211.35 L130.48,210.56 L130.59,209.77 L130.70,208.98 L130.81,208.19 L130.93,207.41 L131.04,206.62 L131.15,205.83 L131.26,205.04 L131.38,204.26 L131.49,203.47 L131.60,202.68 L131.72,201.89 L131.84,201.11 L131.95,200.32 L132.07,199.53 L132.19,198.75 L132.30,197.96 L132.42,197.17 L132.53,196.39 L132.64,195.60 L132.76,194.81 L132.87,194.02 L132.98,193.24 L133.10,192.45 L133.21,191.66 L133.32,190.87 L133.43,190.09 L133.54,189.30 L133.65,188.51 L133.76,187.72 L133.87,186.94 L133.98,186.15 L134.10,185.36 L134.21,184.57 L134.32,183.79 L134.43,183.00 L134.55,182.21 L134.66,181.42 L134.77,180.64 L134.89,179.85 L135.00,179.06 L135.12,178.28 L135.23,177.49 L135.35,176.70 L135.47,175.92 L135.59,175.13 L135.71,174.34 L135.83,173.56 L135.96,172.77 L136.08,171.99 L136.21,171.20 L136.33,170.42 L136.46,169.63 L136.59,168.85 L136.72,168.06 L136.86,167.28 L136.99,166.50 L137.13,165.71 L137.27,164.93 L137.41,164.15 L137.56,163.37 L137.70,162.58 L137.84,161.80 L137.99,161.02 L138.13,160.24 L138.28,159.46 L138.42,158.67 L138.57,157.89 L138.71,157.11 L138.86,156.33 L139.00,155.54 L139.14,154.76 L139.29,153.98 L139.43,153.20 L139.57,152.41 L139.71,151.63 L139.85,150.85 L139.98,150.06 L140.12,149.28 L140.26,148.50 L140.40,147.71 L140.53,146.93 L140.67,146.14 L140.81,145.36 L140.95,144.58 L141.08,143.79 L141.22,143.01 L141.36,142.22 L141.50,141.44 L141.64,140.66 L141.78,139.87 L141.92,139.09 L142.06,138.31 L142.20,137.52 L142.34,136.74 L142.49,135.96 L142.64,135.18 L142.78,134.40 L142.93,133.62 L143.08,132.83 L143.23,132.05 L143.39,131.27 L143.54,130.49 L143.70,129.72 L143.86,128.94 L144.02,128.16 L144.18,127.38 L144.35,126.61 L144.52,125.83 L144.69,125.05 L144.86,124.28 L145.04,123.50 L145.22,122.73 L145.41,121.96 L145.60,121.18 L145.80,120.41 L146.00,119.64 L146.20,118.87 L146.41,118.10 L146.62,117.34 L146.84,116.57 L147.06,115.81 L147.28,115.05 L147.52,114.29 L147.76,113.53 L148.01,112.78 L148.26,112.02 L148.51,111.27 L148.77,110.51 L149.03,109.76 L149.28,109.01 L149.53,108.25 L149.78,107.49 L150.02,106.74 L150.26,105.98 L150.49,105.21 L150.72,104.45 L150.94,103.69 L151.17,102.92 L151.40,102.16 L151.63,101.40 L151.87,100.64 L152.11,99.88 L152.36,99.13 L152.61,98.38 L152.88,97.63 L153.15,96.89 L153.44,96.15 L153.73,95.41 L154.04,94.67 L154.35,93.94 L154.66,93.21 L154.99,92.48 L155.32,91.75 L155.66,91.03 L156.00,90.31 L156.34,89.59 L156.70,88.88 L157.05,88.17 L157.41,87.47 L157.78,86.77 L158.16,86.07 L158.55,85.37 L158.95,84.68 L159.35,84.00 L159.76,83.31 L160.17,82.63 L160.58,81.95 L161.00,81.27 L161.42,80.59 L161.84,79.92 L162.26,79.24 L162.68,78.57 L163.11,77.90 L163.54,77.23 L163.98,76.56 L164.42,75.90 L164.87,75.24 L165.32,74.59 L165.78,73.94 L166.24,73.29 L166.71,72.65 L167.19,72.02 L167.69,71.39 L168.19,70.78 L168.70,70.17 L169.23,69.56 L169.77,68.97 L170.32,68.40 L170.89,67.86 L171.49,67.36 L172.11,66.87 L172.75,66.40 L173.41,65.94 L174.07,65.49 L174.75,65.06 L175.43,64.63 L176.11,64.22 L176.80,63.81 L177.48,63.42 L178.18,63.04 L178.88,62.67 L179.60,62.32 L180.31,61.96 L181.03,61.61 L181.74,61.25 L182.45,60.89 L183.15,60.52 L183.85,60.12 L184.54,59.73 L185.24,59.36 L185.96,59.02 L186.69,58.72 L187.43,58.44 L188.18,58.18 L188.93,57.92 L189.69,57.68 L190.46,57.44 L191.22,57.21 L191.98,56.97 L192.74,56.74 L193.50,56.51 L194.27,56.29 L195.03,56.07 L195.80,55.85 L196.56,55.64 L197.33,55.43 L198.10,55.22 L198.87,55.03 L199.64,54.84 L200.42,54.66 L201.20,54.48 L201.97,54.29 L202.74,54.09 L203.50,53.86 L204.24,53.60 L204.98,53.28 L205.72,52.99 L206.48,52.79 L207.28,52.65 L208.08,52.52 L208.86,52.39 L209.61,52.20 L210.31,51.87 L210.98,51.42 L211.65,50.96 L212.33,50.55 L213.02,50.14 L213.70,49.74 L214.39,49.34 L215.09,48.95 L215.78,48.56 L216.48,48.18 L217.18,47.81 L217.89,47.46 L218.61,47.12 L219.34,46.80 L220.08,46.50 L220.82,46.19 L221.55,45.89 L222.29,45.58 L223.01,45.25 L223.72,44.89 L224.40,44.48 L225.07,44.04 L225.75,43.63 L226.45,43.29 L227.18,42.99 L227.93,42.72 L228.68,42.45 L229.44,42.20 L230.20,41.96 L230.96,41.71 L231.72,41.46 L232.47,41.20 L233.23,40.95 L233.98,40.69 L234.73,40.44 L235.49,40.19 L236.24,39.93 L236.99,39.68 L237.75,39.42 L238.50,39.16 L239.26,38.91 L240.01,38.66 L240.77,38.41 L241.52,38.15 L242.27,37.88 L243.01,37.59 L243.74,37.28 L244.45,36.93 L245.15,36.54 L245.85,36.17 L246.58,35.86 L247.33,35.58 L248.08,35.31 L248.82,35.03 L249.55,34.72 L250.25,34.34 L250.93,33.92 L251.62,33.53 L252.35,33.22 L253.08,32.94 L253.84,32.68 L254.60,32.44 L255.37,32.22 L256.14,32.01 L256.92,31.81 L257.69,31.63 L258.46,31.45 L259.24,31.28 L260.02,31.13 L260.80,30.98 L261.59,30.84 L262.37,30.70 L263.16,30.58 L263.94,30.46 L264.73,30.35 L265.52,30.24 L266.31,30.13 L267.10,30.03 L267.89,29.94 L268.68,29.86 L269.47,29.81 L270.27,29.76 L271.06,29.72 L271.85,29.68 L272.65,29.65 L273.44,29.61 L274.24,29.58 L275.03,29.56 L275.83,29.54 L276.63,29.52 L277.42,29.51 L278.22,29.50 L279.01,29.50 L279.81,29.50 L280.60,29.51 L281.40,29.52 L282.19,29.53 L282.99,29.55 L283.78,29.56 L284.58,29.58 L285.37,29.60 L286.17,29.62 L286.96,29.63 L287.76,29.65 L288.55,29.67 L289.35,29.69 L290.14,29.70 L290.94,29.72 L291.73,29.73 L292.53,29.75 L293.32,29.76 L294.12,29.77 L294.92,29.79 L295.71,29.80 L296.51,29.82 L297.30,29.83 L298.10,29.85 L298.89,29.87 L299.69,29.89 L300.48,29.91 L301.27,29.94 L302.07,29.97 L302.86,30.01 L303.66,30.04 L304.45,30.08 L305.25,30.13 L306.04,30.17 L306.83,30.22 L307.63,30.27 L308.42,30.32 L309.22,30.37 L310.01,30.42 L310.80,30.48 L311.60,30.53 L312.39,30.58 L313.19,30.63 L313.98,30.68 L314.77,30.73 L315.57,30.78 L316.36,30.82 L317.16,30.87 L317.95,30.91 L318.74,30.95 L319.54,30.98 L320.33,31.01 L321.13,31.04 L321.92,31.07 L322.72,31.10 L323.51,31.13 L324.31,31.15 L325.10,31.18 L325.90,31.20 L326.69,31.23 L327.49,31.25 L328.28,31.27 L329.08,31.30 L329.87,31.32 L330.67,31.34 L331.46,31.36 L332.26,31.38 L333.05,31.41 L333.85,31.43 L334.64,31.45 L335.44,31.47 L336.23,31.49 L337.03,31.51 L337.82,31.54 L338.62,31.56 L339.41,31.58 L340.21,31.61 L341.00,31.63 L341.80,31.65 L342.59,31.68 L343.39,31.70 L344.18,31.73 L344.98,31.75 L345.77,31.78 L346.57,31.80 L347.36,31.83 L348.16,31.86 L348.95,31.88 L349.75,31.91 L350.54,31.93 L351.34,31.96 L352.13,31.98 L352.93,32.00 L353.72,32.03 L354.52,32.05 L355.31,32.07 L356.10,32.10 L356.90,32.12 L357.69,32.14 L358.49,32.16 L359.28,32.18 L360.08,32.20 L360.88,32.22 L361.67,32.24 L362.47,32.26 L363.26,32.28 L364.06,32.30 L364.85,32.32 L365.65,32.34 L366.44,32.35 L367.24,32.37 L368.03,32.39 L368.83,32.41 L369.62,32.43 L370.42,32.44 L371.21,32.46 L372.01,32.48 L372.80,32.50 L373.60,32.51 L374.39,32.53 L375.19,32.55 L375.98,32.56 L376.78,32.58 L377.57,32.59 L378.37,32.61 L379.16,32.62 L379.96,32.64 L380.75,32.65 L381.55,32.67 L382.34,32.68 L383.14,32.70 L383.93,32.71 L384.73,32.72 L385.52,32.74 L386.32,32.75 L387.11,32.76 L387.91,32.78 L388.70,32.79 L389.50,32.80" stroke="#00dcff" stroke-width="2.3" stroke-dasharray="4.7 3.45"/>
<path d="M72.50,262.80 L73.28,262.80 L74.06,262.80 L74.85,262.80 L75.63,262.80 L76.41,262.80 L77.19,262.80 L77.98,262.80 L78.76,262.80 L79.54,262.80 L80.32,262.80 L81.11,262.80 L81.89,262.80 L82.67,262.80 L83.45,262.80 L84.24,262.80 L85.02,262.80 L85.80,262.80 L86.58,262.80 L87.37,262.80 L88.15,262.80 L88.93,262.80 L89.71,262.80 L90.49,262.80 L91.28,262.80 L92.06,262.80 L92.84,262.80 L93.62,262.80 L94.41,262.80 L95.19,262.80 L95.97,262.80 L96.75,262.80 L97.54,262.80 L98.32,262.80 L99.10,262.80 L99.88,262.80 L100.67,262.80 L101.45,262.80 L102.23,262.80 L103.02,262.80 L103.81,262.79 L104.59,262.79 L105.38,262.79 L106.17,262.79 L106.95,262.78 L107.74,262.78 L108.52,262.77 L109.30,262.76 L110.09,262.75 L110.87,262.75 L111.64,262.74 L112.42,262.73 L113.19,262.71 L113.97,262.70 L114.75,262.64 L115.54,262.48 L116.30,262.25 L117.01,262.00 L117.68,261.63 L118.31,261.12 L118.87,260.55 L119.35,259.96 L119.79,259.30 L120.18,258.61 L120.54,257.91 L120.90,257.21 L121.23,256.49 L121.52,255.77 L121.75,255.03 L121.93,254.28 L122.09,253.52 L122.24,252.75 L122.37,251.98 L122.50,251.20 L122.62,250.42 L122.74,249.64 L122.87,248.87 L123.01,248.10 L123.17,247.33 L123.33,246.57 L123.51,245.80 L123.68,245.04 L123.86,244.28 L124.04,243.51 L124.22,242.75 L124.39,241.99 L124.55,241.22 L124.71,240.46 L124.86,239.69 L125.00,238.92 L125.14,238.16 L125.28,237.39 L125.42,236.62 L125.55,235.85 L125.69,235.08 L125.82,234.31 L125.95,233.54 L126.08,232.77 L126.21,231.99 L126.34,231.22 L126.46,230.45 L126.58,229.68 L126.71,228.91 L126.83,228.13 L126.95,227.36 L127.07,226.59 L127.18,225.81 L127.30,225.04 L127.42,224.27 L127.53,223.49 L127.65,222.72 L127.76,221.94 L127.87,221.17 L127.99,220.39 L128.10,219.62 L128.21,218.85 L128.32,218.07 L128.43,217.29 L128.54,216.52 L128.65,215.74 L128.76,214.97 L128.87,214.19 L128.98,213.42 L129.09,212.64 L129.20,211.87 L129.31,211.09 L129.41,210.32 L129.52,209.54 L129.63,208.77 L129.74,207.99 L129.85,207.22 L129.96,206.44 L130.07,205.67 L130.18,204.89 L130.30,204.12 L130.41,203.34 L130.52,202.57 L130.63,201.79 L130.75,201.02 L130.86,200.25 L130.98,199.47 L131.09,198.70 L131.21,197.92 L131.32,197.15 L131.43,196.37 L131.54,195.60 L131.66,194.83 L131.77,194.05 L131.88,193.28 L131.99,192.50 L132.10,191.73 L132.21,190.95 L132.32,190.18 L132.43,189.40 L132.53,188.63 L132.64,187.85 L132.75,187.08 L132.86,186.30 L132.97,185.53 L133.08,184.75 L133.19,183.98 L133.30,183.20 L133.41,182.43 L133.52,181.66 L133.64,180.88 L133.75,180.11 L133.86,179.33 L133.98,178.56 L134.09,177.78 L134.21,177.01 L134.32,176.24 L134.44,175.46 L134.56,174.69 L134.68,173.92 L134.80,173.15 L134.92,172.37 L135.04,171.60 L135.17,170.83 L135.29,170.06 L135.42,169.28 L135.55,168.51 L135.68,167.74 L135.81,166.97 L135.94,166.20 L136.08,165.43 L136.22,164.66 L136.35,163.89 L136.49,163.12 L136.63,162.35 L136.77,161.58 L136.91,160.81 L137.06,160.04 L137.20,159.27 L137.34,158.50 L137.49,157.73 L137.63,156.96 L137.78,156.19 L137.92,155.43 L138.06,154.66 L138.21,153.89 L138.35,153.12 L138.49,152.35 L138.63,151.58 L138.78,150.81 L138.92,150.04 L139.06,149.27 L139.20,148.50 L139.34,147.73 L139.48,146.95 L139.62,146.18 L139.76,145.41 L139.90,144.64 L140.04,143.87 L140.18,143.10 L140.33,142.33 L140.47,141.56 L140.61,140.79 L140.76,140.02 L140.91,139.25 L141.05,138.48 L141.20,137.71 L141.35,136.95 L141.51,136.18 L141.66,135.41 L141.81,134.64 L141.97,133.88 L142.13,133.11 L142.29,132.35 L142.45,131.58 L142.62,130.82 L142.79,130.05 L142.96,129.29 L143.13,128.53 L143.30,127.77 L143.48,127.01 L143.66,126.25 L143.85,125.49 L144.03,124.73 L144.23,123.98 L144.43,123.22 L144.64,122.47 L144.85,121.72 L145.07,120.96 L145.29,120.21 L145.52,119.46 L145.76,118.72 L145.99,117.97 L146.23,117.22 L146.48,116.48 L146.72,115.74 L146.97,115.00 L147.22,114.26 L147.49,113.52 L147.75,112.79 L148.02,112.05 L148.29,111.32 L148.57,110.58 L148.85,109.85 L149.13,109.12 L149.41,108.39 L149.69,107.66 L149.97,106.93 L150.25,106.20 L150.53,105.47 L150.82,104.74 L151.10,104.01 L151.39,103.28 L151.67,102.55 L151.97,101.82 L152.27,101.10 L152.57,100.38 L152.88,99.66 L153.20,98.95 L153.53,98.24 L153.86,97.54 L154.21,96.84 L154.57,96.14 L154.93,95.45 L155.30,94.76 L155.68,94.07 L156.07,93.39 L156.46,92.71 L156.86,92.04 L157.26,91.37 L157.67,90.70 L158.09,90.04 L158.51,89.38 L158.94,88.73 L159.38,88.08 L159.83,87.43 L160.28,86.79 L160.74,86.16 L161.20,85.53 L161.67,84.91 L162.15,84.29 L162.63,83.67 L163.13,83.06 L163.62,82.46 L164.13,81.86 L164.64,81.27 L165.16,80.68 L165.68,80.10 L166.21,79.53 L166.75,78.96 L167.29,78.39 L167.85,77.83 L168.40,77.28 L168.97,76.74 L169.54,76.21 L170.12,75.69 L170.71,75.17 L171.30,74.65 L171.90,74.14 L172.50,73.62 L173.11,73.12 L173.72,72.63 L174.35,72.15 L174.98,71.69 L175.62,71.24 L176.27,70.82 L176.93,70.43 L177.60,70.05 L178.29,69.68 L178.99,69.33 L179.70,69.00 L180.42,68.67 L181.14,68.36 L181.87,68.06 L182.60,67.77 L183.33,67.49 L184.06,67.22 L184.80,66.97 L185.55,66.72 L186.29,66.49 L187.04,66.26 L187.79,66.04 L188.55,65.82 L189.30,65.60 L190.05,65.39 L190.81,65.18 L191.56,64.98 L192.32,64.80 L193.08,64.62 L193.85,64.45 L194.61,64.28 L195.38,64.12 L196.14,63.96 L196.91,63.80 L197.67,63.64 L198.44,63.48 L199.21,63.32 L199.97,63.16 L200.74,62.99 L201.50,62.83 L202.27,62.66 L203.04,62.50 L203.80,62.34 L204.56,62.16 L205.32,61.98 L206.08,61.78 L206.83,61.57 L207.59,61.34 L208.33,61.09 L209.07,60.82 L209.78,60.52 L210.46,60.17 L211.13,59.76 L211.79,59.33 L212.45,58.89 L213.11,58.46 L213.78,58.06 L214.46,57.67 L215.14,57.30 L215.83,56.92 L216.53,56.56 L217.22,56.20 L217.92,55.84 L218.61,55.49 L219.31,55.13 L220.01,54.78 L220.72,54.44 L221.43,54.11 L222.14,53.79 L222.86,53.49 L223.58,53.19 L224.31,52.89 L225.03,52.60 L225.76,52.32 L226.50,52.04 L227.23,51.76 L227.96,51.49 L228.70,51.23 L229.43,50.96 L230.17,50.69 L230.90,50.42 L231.64,50.15 L232.37,49.88 L233.10,49.61 L233.84,49.34 L234.57,49.07 L235.31,48.81 L236.04,48.54 L236.78,48.28 L237.52,48.02 L238.26,47.76 L238.99,47.49 L239.73,47.24 L240.47,46.98 L241.21,46.72 L241.95,46.47 L242.70,46.23 L243.44,45.98 L244.18,45.75 L244.93,45.51 L245.68,45.28 L246.43,45.06 L247.18,44.84 L247.93,44.63 L248.69,44.42 L249.44,44.22 L250.20,44.02 L250.96,43.83 L251.72,43.64 L252.48,43.46 L253.24,43.28 L254.00,43.10 L254.76,42.93 L255.53,42.75 L256.29,42.58 L257.06,42.41 L257.82,42.25 L258.59,42.09 L259.36,41.94 L260.13,41.80 L260.90,41.67 L261.67,41.53 L262.44,41.39 L263.21,41.25 L263.99,41.11 L264.76,40.98 L265.54,40.85 L266.31,40.74 L267.09,40.65 L267.87,40.57 L268.65,40.52 L269.43,40.50 L270.20,40.50 L270.98,40.50 L271.77,40.51 L272.55,40.51 L273.33,40.52 L274.11,40.52 L274.90,40.53 L275.68,40.54 L276.46,40.55 L277.25,40.56 L278.03,40.57 L278.81,40.58 L279.59,40.59 L280.38,40.61 L281.16,40.62 L281.94,40.64 L282.72,40.66 L283.51,40.68 L284.29,40.70 L285.07,40.72 L285.85,40.75 L286.63,40.78 L287.42,40.80 L288.20,40.83 L288.98,40.86 L289.76,40.89 L290.54,40.92 L291.32,40.95 L292.11,40.98 L292.89,41.02 L293.67,41.05 L294.45,41.09 L295.23,41.13 L296.02,41.17 L296.80,41.21 L297.58,41.25 L298.36,41.30 L299.14,41.34 L299.92,41.39 L300.70,41.45 L301.48,41.51 L302.26,41.58 L303.04,41.65 L303.82,41.73 L304.59,41.81 L305.37,41.89 L306.15,41.97 L306.93,42.05 L307.71,42.14 L308.49,42.22 L309.26,42.30 L310.04,42.38 L310.82,42.46 L311.60,42.53 L312.38,42.61 L313.16,42.68 L313.94,42.76 L314.71,42.83 L315.49,42.91 L316.27,42.99 L317.05,43.06 L317.83,43.14 L318.61,43.21 L319.39,43.29 L320.16,43.37 L320.94,43.44 L321.72,43.52 L322.50,43.59 L323.28,43.67 L324.06,43.74 L324.84,43.82 L325.62,43.89 L326.40,43.97 L327.17,44.04 L327.95,44.12 L328.73,44.20 L329.51,44.28 L330.29,44.35 L331.07,44.44 L331.84,44.52 L332.62,44.60 L333.40,44.69 L334.18,44.77 L334.95,44.86 L335.73,44.94 L336.51,45.03 L337.29,45.11 L338.07,45.20 L338.84,45.28 L339.62,45.36 L340.40,45.44 L341.18,45.52 L341.96,45.60 L342.74,45.68 L343.51,45.76 L344.29,45.83 L345.07,45.91 L345.85,45.99 L346.63,46.07 L347.41,46.14 L348.18,46.22 L348.96,46.30 L349.74,46.37 L350.52,46.45 L351.30,46.53 L352.08,46.61 L352.86,46.69 L353.63,46.77 L354.41,46.85 L355.19,46.93 L355.97,47.00 L356.75,47.08 L357.53,47.16 L358.30,47.24 L359.08,47.31 L359.86,47.39 L360.64,47.46 L361.42,47.53 L362.20,47.61 L362.98,47.68 L363.76,47.75 L364.54,47.82 L365.32,47.89 L366.09,47.96 L366.87,48.03 L367.65,48.10 L368.43,48.17 L369.21,48.23 L369.99,48.30 L370.77,48.37 L371.55,48.43 L372.33,48.50 L373.11,48.56 L373.89,48.63 L374.67,48.69 L375.45,48.75 L376.23,48.82 L377.01,48.88 L377.79,48.94 L378.57,49.00 L379.35,49.05 L380.13,49.11 L380.91,49.16 L381.69,49.22 L382.47,49.27 L383.25,49.32 L384.03,49.37 L384.81,49.42 L385.59,49.47 L386.38,49.52 L387.16,49.57 L387.94,49.61 L388.72,49.66 L389.50,49.70" stroke="#ffe600" stroke-width="2.3" stroke-dasharray="4.6 1.7 1.2 1.7"/>
<path d="M72.50,262.80 L73.28,262.80 L74.06,262.80 L74.84,262.80 L75.62,262.80 L76.39,262.80 L77.17,262.80 L77.95,262.80 L78.73,262.80 L79.51,262.80 L80.29,262.80 L81.07,262.80 L81.85,262.80 L82.62,262.80 L83.40,262.80 L84.18,262.80 L84.96,262.80 L85.74,262.80 L86.52,262.80 L87.30,262.80 L88.07,262.80 L88.85,262.80 L89.63,262.80 L90.41,262.80 L91.19,262.80 L91.97,262.80 L92.75,262.80 L93.53,262.80 L94.30,262.80 L95.08,262.80 L95.86,262.80 L96.64,262.80 L97.42,262.80 L98.20,262.80 L98.98,262.80 L99.76,262.80 L100.54,262.80 L101.32,262.80 L102.10,262.80 L102.88,262.80 L103.67,262.80 L104.45,262.79 L105.24,262.79 L106.02,262.79 L106.80,262.78 L107.59,262.78 L108.37,262.77 L109.15,262.76 L109.93,262.76 L110.70,262.75 L111.48,262.74 L112.25,262.73 L113.01,262.72 L113.78,262.70 L114.55,262.65 L115.32,262.46 L116.06,262.18 L116.75,261.88 L117.40,261.45 L118.01,260.91 L118.54,260.35 L119.00,259.74 L119.42,259.07 L119.80,258.38 L120.16,257.69 L120.51,256.98 L120.83,256.27 L121.10,255.54 L121.31,254.80 L121.48,254.05 L121.64,253.29 L121.78,252.53 L121.91,251.76 L122.03,250.98 L122.15,250.21 L122.27,249.43 L122.41,248.66 L122.55,247.90 L122.71,247.13 L122.88,246.37 L123.05,245.61 L123.23,244.85 L123.40,244.09 L123.58,243.34 L123.76,242.58 L123.93,241.82 L124.09,241.06 L124.24,240.29 L124.39,239.53 L124.53,238.76 L124.67,238.00 L124.81,237.23 L124.95,236.47 L125.08,235.70 L125.21,234.94 L125.34,234.17 L125.47,233.40 L125.60,232.64 L125.73,231.87 L125.86,231.10 L125.98,230.33 L126.10,229.56 L126.22,228.79 L126.34,228.02 L126.46,227.25 L126.58,226.48 L126.70,225.71 L126.82,224.94 L126.93,224.17 L127.05,223.40 L127.16,222.63 L127.27,221.86 L127.39,221.09 L127.50,220.32 L127.61,219.55 L127.72,218.78 L127.83,218.01 L127.94,217.23 L128.05,216.46 L128.16,215.69 L128.27,214.92 L128.38,214.15 L128.48,213.38 L128.59,212.60 L128.70,211.83 L128.81,211.06 L128.92,210.29 L129.03,209.52 L129.14,208.75 L129.25,207.97 L129.35,207.20 L129.46,206.43 L129.57,205.66 L129.68,204.89 L129.80,204.12 L129.91,203.35 L130.02,202.58 L130.13,201.80 L130.25,201.03 L130.36,200.26 L130.48,199.49 L130.59,198.72 L130.70,197.95 L130.82,197.18 L130.93,196.41 L131.04,195.64 L131.15,194.87 L131.26,194.10 L131.37,193.33 L131.48,192.56 L131.59,191.79 L131.70,191.01 L131.81,190.24 L131.92,189.47 L132.02,188.70 L132.13,187.93 L132.24,187.16 L132.35,186.39 L132.46,185.62 L132.57,184.84 L132.68,184.07 L132.79,183.30 L132.90,182.53 L133.01,181.76 L133.12,180.99 L133.23,180.22 L133.35,179.45 L133.46,178.68 L133.57,177.91 L133.69,177.14 L133.80,176.37 L133.92,175.60 L134.04,174.83 L134.16,174.06 L134.27,173.29 L134.40,172.52 L134.52,171.75 L134.64,170.98 L134.77,170.21 L134.89,169.45 L135.02,168.68 L135.15,167.91 L135.28,167.14 L135.41,166.38 L135.55,165.61 L135.68,164.84 L135.82,164.07 L135.95,163.31 L136.09,162.54 L136.23,161.77 L136.37,161.01 L136.51,160.24 L136.66,159.48 L136.80,158.71 L136.94,157.95 L137.09,157.18 L137.23,156.42 L137.38,155.65 L137.52,154.89 L137.67,154.12 L137.81,153.35 L137.95,152.59 L138.10,151.82 L138.24,151.06 L138.38,150.29 L138.52,149.52 L138.67,148.76 L138.81,147.99 L138.95,147.22 L139.09,146.45 L139.24,145.69 L139.38,144.92 L139.52,144.15 L139.67,143.39 L139.81,142.62 L139.96,141.85 L140.10,141.09 L140.25,140.32 L140.40,139.56 L140.55,138.79 L140.70,138.03 L140.86,137.26 L141.01,136.50 L141.17,135.74 L141.33,134.97 L141.49,134.21 L141.65,133.45 L141.81,132.69 L141.98,131.93 L142.15,131.17 L142.32,130.41 L142.50,129.65 L142.67,128.90 L142.85,128.14 L143.03,127.39 L143.22,126.63 L143.41,125.88 L143.60,125.13 L143.80,124.38 L144.00,123.63 L144.22,122.88 L144.44,122.13 L144.67,121.39 L144.90,120.64 L145.14,119.90 L145.39,119.16 L145.64,118.42 L145.89,117.68 L146.14,116.95 L146.39,116.21 L146.65,115.48 L146.91,114.74 L147.18,114.01 L147.46,113.29 L147.74,112.56 L148.02,111.83 L148.30,111.11 L148.59,110.38 L148.88,109.66 L149.17,108.94 L149.46,108.21 L149.75,107.49 L150.04,106.77 L150.32,106.04 L150.60,105.31 L150.88,104.58 L151.16,103.85 L151.45,103.13 L151.74,102.40 L152.03,101.68 L152.33,100.96 L152.63,100.24 L152.95,99.53 L153.27,98.83 L153.61,98.13 L153.96,97.44 L154.32,96.75 L154.69,96.07 L155.08,95.39 L155.47,94.71 L155.87,94.04 L156.28,93.38 L156.70,92.72 L157.11,92.06 L157.54,91.41 L157.97,90.76 L158.41,90.12 L158.86,89.48 L159.32,88.85 L159.78,88.22 L160.25,87.60 L160.73,86.99 L161.21,86.38 L161.70,85.77 L162.19,85.17 L162.70,84.57 L163.21,83.98 L163.72,83.39 L164.25,82.82 L164.78,82.25 L165.31,81.68 L165.85,81.13 L166.40,80.58 L166.96,80.03 L167.53,79.49 L168.10,78.96 L168.68,78.44 L169.27,77.93 L169.87,77.44 L170.48,76.95 L171.09,76.47 L171.71,76.00 L172.34,75.53 L172.97,75.07 L173.62,74.62 L174.26,74.18 L174.92,73.76 L175.58,73.35 L176.25,72.96 L176.92,72.58 L177.61,72.22 L178.30,71.88 L179.01,71.54 L179.72,71.22 L180.44,70.91 L181.16,70.60 L181.89,70.31 L182.61,70.03 L183.34,69.77 L184.08,69.51 L184.81,69.26 L185.56,69.03 L186.30,68.80 L187.05,68.59 L187.80,68.37 L188.55,68.16 L189.30,67.95 L190.05,67.74 L190.81,67.55 L191.56,67.36 L192.32,67.18 L193.08,67.01 L193.84,66.85 L194.60,66.69 L195.37,66.53 L196.13,66.38 L196.89,66.23 L197.66,66.08 L198.42,65.93 L199.19,65.78 L199.95,65.63 L200.72,65.48 L201.48,65.32 L202.25,65.18 L203.01,65.03 L203.78,64.88 L204.54,64.72 L205.30,64.56 L206.06,64.38 L206.81,64.18 L207.57,63.97 L208.32,63.74 L209.05,63.48 L209.76,63.19 L210.44,62.85 L211.11,62.44 L211.76,62.01 L212.40,61.56 L213.06,61.11 L213.72,60.70 L214.39,60.31 L215.07,59.93 L215.75,59.55 L216.43,59.17 L217.12,58.80 L217.81,58.44 L218.50,58.07 L219.18,57.71 L219.88,57.35 L220.57,57.00 L221.27,56.66 L221.98,56.34 L222.69,56.03 L223.41,55.74 L224.14,55.45 L224.87,55.17 L225.60,54.90 L226.33,54.63 L227.06,54.36 L227.79,54.10 L228.53,53.84 L229.27,53.59 L230.00,53.33 L230.73,53.07 L231.47,52.81 L232.20,52.55 L232.94,52.29 L233.67,52.03 L234.41,51.78 L235.14,51.52 L235.88,51.27 L236.62,51.02 L237.35,50.77 L238.09,50.52 L238.83,50.27 L239.57,50.03 L240.31,49.78 L241.05,49.54 L241.79,49.30 L242.53,49.07 L243.28,48.84 L244.02,48.62 L244.77,48.40 L245.52,48.18 L246.27,47.97 L247.02,47.77 L247.78,47.57 L248.53,47.38 L249.29,47.19 L250.04,47.01 L250.80,46.84 L251.56,46.67 L252.32,46.50 L253.09,46.34 L253.85,46.18 L254.61,46.03 L255.37,45.87 L256.14,45.72 L256.90,45.57 L257.67,45.42 L258.44,45.28 L259.20,45.15 L259.97,45.03 L260.74,44.92 L261.51,44.81 L262.28,44.70 L263.06,44.58 L263.83,44.47 L264.60,44.36 L265.38,44.26 L266.15,44.17 L266.93,44.09 L267.71,44.03 L268.48,43.99 L269.26,43.96 L270.03,43.96 L270.81,43.97 L271.59,43.98 L272.37,43.99 L273.14,44.01 L273.92,44.03 L274.70,44.05 L275.48,44.07 L276.26,44.10 L277.04,44.13 L277.82,44.15 L278.60,44.18 L279.38,44.21 L280.16,44.24 L280.93,44.26 L281.71,44.29 L282.49,44.32 L283.27,44.36 L284.05,44.39 L284.82,44.43 L285.60,44.46 L286.38,44.50 L287.16,44.54 L287.94,44.58 L288.71,44.62 L289.49,44.66 L290.27,44.71 L291.05,44.75 L291.82,44.79 L292.60,44.84 L293.38,44.88 L294.16,44.93 L294.93,44.98 L295.71,45.03 L296.49,45.09 L297.26,45.14 L298.04,45.20 L298.82,45.26 L299.59,45.32 L300.37,45.38 L301.14,45.45 L301.92,45.53 L302.69,45.61 L303.47,45.70 L304.24,45.79 L305.01,45.88 L305.79,45.97 L306.56,46.07 L307.33,46.16 L308.11,46.25 L308.88,46.34 L309.65,46.43 L310.43,46.52 L311.20,46.61 L311.98,46.70 L312.75,46.78 L313.52,46.87 L314.30,46.96 L315.07,47.05 L315.85,47.13 L316.62,47.22 L317.39,47.31 L318.17,47.39 L318.94,47.48 L319.71,47.57 L320.49,47.65 L321.26,47.74 L322.04,47.82 L322.81,47.91 L323.59,47.99 L324.36,48.07 L325.13,48.16 L325.91,48.24 L326.68,48.33 L327.46,48.41 L328.23,48.50 L329.00,48.58 L329.78,48.67 L330.55,48.76 L331.32,48.85 L332.10,48.94 L332.87,49.04 L333.64,49.13 L334.42,49.22 L335.19,49.32 L335.96,49.41 L336.74,49.51 L337.51,49.60 L338.28,49.70 L339.06,49.79 L339.83,49.88 L340.60,49.97 L341.38,50.06 L342.15,50.15 L342.92,50.24 L343.70,50.33 L344.47,50.42 L345.24,50.50 L346.02,50.59 L346.79,50.68 L347.57,50.77 L348.34,50.86 L349.11,50.95 L349.89,51.03 L350.66,51.13 L351.43,51.22 L352.21,51.31 L352.98,51.41 L353.75,51.50 L354.53,51.60 L355.30,51.70 L356.07,51.79 L356.85,51.88 L357.62,51.97 L358.39,52.05 L359.17,52.13 L359.94,52.21 L360.72,52.28 L361.49,52.36 L362.27,52.44 L363.04,52.51 L363.82,52.58 L364.60,52.65 L365.37,52.72 L366.15,52.79 L366.93,52.84 L367.70,52.90 L368.48,52.94 L369.26,52.98 L370.03,53.01 L370.81,53.03 L371.59,53.05 L372.37,53.06 L373.15,53.08 L373.93,53.09 L374.70,53.11 L375.48,53.12 L376.26,53.13 L377.04,53.14 L377.82,53.15 L378.60,53.17 L379.38,53.18 L380.16,53.19 L380.93,53.20 L381.71,53.22 L382.49,53.23 L383.27,53.24 L384.05,53.26 L384.83,53.27 L385.61,53.28 L386.39,53.29 L387.16,53.30 L387.94,53.32 L388.72,53.33 L389.50,53.34" stroke="#ff8000" stroke-width="2.3" stroke-dasharray="6.3 1.9 1.2 1.8 1.2 1.8 1.2 1.9"/>
<path d="M72.50,262.80 L73.28,262.80 L74.05,262.80 L74.83,262.80 L75.60,262.80 L76.38,262.80 L77.15,262.80 L77.93,262.80 L78.70,262.80 L79.48,262.80 L80.26,262.80 L81.03,262.80 L81.81,262.80 L82.58,262.80 L83.36,262.80 L84.13,262.80 L84.91,262.80 L85.68,262.80 L86.46,262.80 L87.24,262.80 L88.01,262.80 L88.79,262.80 L89.56,262.80 L90.34,262.80 L91.11,262.80 L91.89,262.80 L92.67,262.80 L93.44,262.80 L94.22,262.80 L94.99,262.80 L95.77,262.80 L96.54,262.80 L97.32,262.80 L98.09,262.80 L98.87,262.80 L99.65,262.80 L100.42,262.80 L101.20,262.80 L101.98,262.80 L102.76,262.80 L103.54,262.80 L104.33,262.79 L105.11,262.79 L105.90,262.79 L106.68,262.78 L107.46,262.78 L108.24,262.77 L109.02,262.77 L109.79,262.76 L110.57,262.75 L111.34,262.74 L112.10,262.73 L112.86,262.72 L113.62,262.71 L114.37,262.66 L115.13,262.44 L115.85,262.12 L116.52,261.77 L117.16,261.30 L117.75,260.77 L118.26,260.21 L118.71,259.58 L119.12,258.91 L119.49,258.22 L119.84,257.53 L120.18,256.82 L120.49,256.11 L120.75,255.38 L120.95,254.64 L121.12,253.89 L121.27,253.14 L121.41,252.37 L121.53,251.60 L121.65,250.83 L121.77,250.06 L121.90,249.29 L122.03,248.52 L122.18,247.76 L122.34,247.00 L122.51,246.24 L122.68,245.49 L122.85,244.73 L123.03,243.97 L123.21,243.22 L123.38,242.46 L123.55,241.71 L123.71,240.95 L123.86,240.19 L124.01,239.43 L124.15,238.67 L124.29,237.90 L124.43,237.14 L124.56,236.38 L124.69,235.62 L124.83,234.85 L124.96,234.09 L125.09,233.32 L125.22,232.56 L125.34,231.80 L125.47,231.03 L125.59,230.27 L125.71,229.50 L125.83,228.73 L125.95,227.97 L126.07,227.20 L126.19,226.43 L126.31,225.67 L126.42,224.90 L126.54,224.13 L126.65,223.37 L126.77,222.60 L126.88,221.83 L126.99,221.06 L127.10,220.30 L127.21,219.53 L127.32,218.76 L127.43,217.99 L127.54,217.22 L127.65,216.45 L127.76,215.69 L127.87,214.92 L127.98,214.15 L128.08,213.38 L128.19,212.61 L128.30,211.84 L128.41,211.07 L128.52,210.30 L128.62,209.54 L128.73,208.77 L128.84,208.00 L128.95,207.23 L129.06,206.46 L129.17,205.69 L129.28,204.93 L129.39,204.16 L129.50,203.39 L129.61,202.62 L129.73,201.85 L129.84,201.09 L129.95,200.32 L130.07,199.55 L130.18,198.79 L130.29,198.02 L130.41,197.25 L130.52,196.48 L130.63,195.72 L130.74,194.95 L130.85,194.18 L130.96,193.41 L131.07,192.64 L131.18,191.88 L131.28,191.11 L131.39,190.34 L131.50,189.57 L131.61,188.80 L131.72,188.04 L131.83,187.27 L131.94,186.50 L132.04,185.73 L132.15,184.96 L132.26,184.20 L132.37,183.43 L132.48,182.66 L132.59,181.89 L132.70,181.12 L132.81,180.36 L132.92,179.59 L133.04,178.82 L133.15,178.05 L133.26,177.29 L133.38,176.52 L133.50,175.75 L133.61,174.99 L133.73,174.22 L133.85,173.45 L133.97,172.69 L134.09,171.92 L134.21,171.16 L134.34,170.39 L134.46,169.63 L134.59,168.86 L134.72,168.10 L134.85,167.33 L134.98,166.57 L135.11,165.80 L135.24,165.04 L135.38,164.28 L135.51,163.51 L135.65,162.75 L135.79,161.99 L135.93,161.22 L136.07,160.46 L136.21,159.70 L136.35,158.93 L136.50,158.17 L136.64,157.41 L136.79,156.65 L136.93,155.89 L137.08,155.12 L137.22,154.36 L137.37,153.60 L137.51,152.84 L137.66,152.08 L137.80,151.31 L137.94,150.55 L138.09,149.79 L138.23,149.02 L138.37,148.26 L138.52,147.49 L138.66,146.73 L138.80,145.97 L138.95,145.20 L139.09,144.44 L139.24,143.68 L139.39,142.91 L139.53,142.15 L139.68,141.39 L139.83,140.62 L139.98,139.86 L140.14,139.10 L140.29,138.34 L140.44,137.58 L140.60,136.82 L140.76,136.06 L140.92,135.30 L141.08,134.54 L141.25,133.78 L141.42,133.03 L141.59,132.27 L141.76,131.51 L141.93,130.76 L142.11,130.01 L142.29,129.25 L142.47,128.50 L142.66,127.75 L142.85,127.00 L143.04,126.25 L143.23,125.51 L143.43,124.76 L143.64,124.02 L143.86,123.27 L144.08,122.53 L144.32,121.79 L144.56,121.05 L144.80,120.32 L145.06,119.58 L145.31,118.85 L145.57,118.12 L145.83,117.38 L146.10,116.65 L146.36,115.93 L146.63,115.20 L146.90,114.47 L147.18,113.75 L147.47,113.03 L147.76,112.31 L148.05,111.59 L148.35,110.87 L148.64,110.16 L148.94,109.44 L149.24,108.72 L149.53,108.01 L149.83,107.29 L150.11,106.57 L150.40,105.84 L150.68,105.12 L150.96,104.39 L151.24,103.66 L151.52,102.94 L151.81,102.22 L152.10,101.50 L152.40,100.78 L152.71,100.07 L153.03,99.37 L153.37,98.68 L153.71,97.99 L154.08,97.31 L154.46,96.63 L154.86,95.96 L155.26,95.30 L155.68,94.64 L156.10,93.99 L156.54,93.34 L156.97,92.70 L157.41,92.07 L157.86,91.44 L158.32,90.81 L158.79,90.19 L159.27,89.58 L159.75,88.97 L160.24,88.36 L160.73,87.77 L161.23,87.18 L161.74,86.59 L162.25,86.01 L162.77,85.43 L163.30,84.86 L163.83,84.29 L164.37,83.73 L164.92,83.19 L165.48,82.65 L166.04,82.12 L166.61,81.59 L167.19,81.07 L167.78,80.56 L168.37,80.06 L168.98,79.57 L169.59,79.10 L170.21,78.65 L170.85,78.21 L171.49,77.77 L172.14,77.35 L172.80,76.93 L173.47,76.53 L174.14,76.13 L174.82,75.75 L175.50,75.37 L176.18,75.01 L176.87,74.66 L177.56,74.33 L178.27,74.00 L178.97,73.67 L179.69,73.36 L180.40,73.06 L181.12,72.77 L181.85,72.48 L182.58,72.21 L183.30,71.95 L184.04,71.70 L184.77,71.47 L185.52,71.24 L186.26,71.02 L187.01,70.81 L187.76,70.60 L188.51,70.40 L189.25,70.20 L190.01,70.00 L190.76,69.81 L191.51,69.63 L192.27,69.46 L193.02,69.29 L193.78,69.14 L194.54,68.98 L195.31,68.83 L196.07,68.69 L196.83,68.55 L197.59,68.40 L198.36,68.26 L199.12,68.12 L199.88,67.98 L200.64,67.84 L201.41,67.70 L202.17,67.56 L202.94,67.43 L203.70,67.30 L204.47,67.16 L205.23,67.01 L205.98,66.84 L206.74,66.66 L207.50,66.47 L208.25,66.26 L208.99,66.02 L209.70,65.74 L210.38,65.41 L211.04,65.01 L211.68,64.57 L212.32,64.11 L212.96,63.65 L213.62,63.23 L214.28,62.83 L214.95,62.44 L215.62,62.05 L216.30,61.67 L216.98,61.29 L217.66,60.92 L218.34,60.55 L219.02,60.17 L219.70,59.80 L220.39,59.44 L221.08,59.09 L221.78,58.76 L222.49,58.45 L223.20,58.16 L223.93,57.88 L224.66,57.61 L225.39,57.35 L226.12,57.09 L226.85,56.83 L227.58,56.57 L228.32,56.32 L229.05,56.07 L229.79,55.83 L230.52,55.58 L231.26,55.33 L231.99,55.08 L232.73,54.83 L233.46,54.58 L234.20,54.33 L234.93,54.09 L235.67,53.84 L236.40,53.60 L237.14,53.36 L237.88,53.13 L238.62,52.89 L239.36,52.66 L240.10,52.42 L240.84,52.19 L241.58,51.97 L242.33,51.74 L243.07,51.53 L243.82,51.32 L244.56,51.11 L245.31,50.91 L246.06,50.71 L246.81,50.52 L247.57,50.33 L248.32,50.15 L249.08,49.98 L249.84,49.82 L250.59,49.66 L251.36,49.50 L252.12,49.35 L252.88,49.21 L253.64,49.06 L254.40,48.93 L255.17,48.79 L255.93,48.65 L256.70,48.52 L257.46,48.39 L258.23,48.27 L259.00,48.16 L259.76,48.05 L260.53,47.95 L261.30,47.87 L262.07,47.78 L262.84,47.69 L263.62,47.60 L264.39,47.51 L265.16,47.43 L265.94,47.36 L266.71,47.30 L267.48,47.24 L268.26,47.21 L269.03,47.19 L269.81,47.18 L270.58,47.19 L271.35,47.20 L272.13,47.22 L272.90,47.25 L273.68,47.28 L274.45,47.31 L275.23,47.35 L276.00,47.39 L276.78,47.43 L277.56,47.47 L278.33,47.51 L279.11,47.56 L279.88,47.59 L280.65,47.63 L281.43,47.67 L282.20,47.71 L282.98,47.76 L283.75,47.80 L284.53,47.85 L285.30,47.89 L286.08,47.94 L286.85,47.99 L287.62,48.04 L288.40,48.09 L289.17,48.14 L289.94,48.20 L290.72,48.25 L291.49,48.30 L292.27,48.36 L293.04,48.42 L293.81,48.47 L294.59,48.53 L295.36,48.60 L296.13,48.66 L296.91,48.72 L297.68,48.79 L298.45,48.86 L299.22,48.93 L300.00,49.00 L300.77,49.08 L301.54,49.16 L302.31,49.24 L303.08,49.33 L303.85,49.42 L304.62,49.51 L305.39,49.61 L306.16,49.70 L306.93,49.80 L307.70,49.90 L308.47,49.99 L309.24,50.08 L310.01,50.18 L310.78,50.27 L311.55,50.36 L312.32,50.45 L313.09,50.54 L313.86,50.63 L314.63,50.72 L315.40,50.81 L316.17,50.90 L316.94,50.99 L317.71,51.08 L318.48,51.17 L319.25,51.26 L320.02,51.35 L320.79,51.44 L321.56,51.53 L322.33,51.61 L323.11,51.70 L323.88,51.79 L324.65,51.87 L325.42,51.96 L326.19,52.04 L326.96,52.13 L327.73,52.21 L328.50,52.30 L329.27,52.39 L330.04,52.48 L330.81,52.57 L331.58,52.66 L332.35,52.76 L333.12,52.85 L333.89,52.95 L334.66,53.04 L335.43,53.14 L336.20,53.23 L336.97,53.33 L337.74,53.42 L338.51,53.52 L339.28,53.61 L340.05,53.71 L340.82,53.80 L341.59,53.89 L342.36,53.98 L343.13,54.07 L343.90,54.17 L344.67,54.26 L345.44,54.35 L346.21,54.44 L346.98,54.53 L347.75,54.62 L348.52,54.72 L349.29,54.81 L350.06,54.91 L350.83,55.01 L351.60,55.11 L352.37,55.22 L353.14,55.33 L353.90,55.44 L354.67,55.55 L355.44,55.65 L356.21,55.76 L356.98,55.86 L357.75,55.96 L358.52,56.05 L359.29,56.13 L360.06,56.21 L360.83,56.28 L361.60,56.35 L362.38,56.43 L363.15,56.50 L363.92,56.57 L364.70,56.64 L365.47,56.70 L366.24,56.76 L367.02,56.81 L367.79,56.85 L368.57,56.88 L369.34,56.89 L370.12,56.90 L370.89,56.90 L371.67,56.88 L372.44,56.87 L373.22,56.84 L373.99,56.82 L374.77,56.79 L375.54,56.76 L376.32,56.73 L377.09,56.70 L377.87,56.67 L378.64,56.64 L379.42,56.62 L380.20,56.60 L380.97,56.58 L381.75,56.56 L382.52,56.54 L383.30,56.52 L384.07,56.51 L384.85,56.49 L385.62,56.47 L386.40,56.46 L387.17,56.44 L387.95,56.43 L388.72,56.41 L389.50,56.40" stroke="#ff0000" stroke-width="2.3" stroke-dasharray="4.7 3.45"/>
</g>
<text transform="translate(72.50,284.50) scale(1,1.07)" font-size="11.7" text-anchor="middle" style="fill:#000;stroke:#000;stroke-width:0.25px">0</text>
<text transform="translate(151.75,284.50) scale(1,1.07)" font-size="11.7" text-anchor="middle" style="fill:#000;stroke:#000;stroke-width:0.25px">50</text>
<text transform="translate(231.00,284.50) scale(1,1.07)" font-size="11.7" text-anchor="middle" style="fill:#000;stroke:#000;stroke-width:0.25px">100</text>
<text transform="translate(310.25,284.50) scale(1,1.07)" font-size="11.7" text-anchor="middle" style="fill:#000;stroke:#000;stroke-width:0.25px">150</text>
<text transform="translate(389.50,284.50) scale(1,1.07)" font-size="11.7" text-anchor="middle" style="fill:#000;stroke:#000;stroke-width:0.25px">200</text>
<text transform="translate(67.70,263.20) scale(1,1.07)" font-size="11.7" text-anchor="end" style="fill:#000;stroke:#000;stroke-width:0.25px">0</text>
<text transform="translate(67.70,230.87) scale(1,1.07)" font-size="11.7" text-anchor="end" style="fill:#000;stroke:#000;stroke-width:0.25px">20</text>
<text transform="translate(67.70,193.63) scale(1,1.07)" font-size="11.7" text-anchor="end" style="fill:#000;stroke:#000;stroke-width:0.25px">40</text>
<text transform="translate(67.70,156.40) scale(1,1.07)" font-size="11.7" text-anchor="end" style="fill:#000;stroke:#000;stroke-width:0.25px">60</text>
<text transform="translate(67.70,119.16) scale(1,1.07)" font-size="11.7" text-anchor="end" style="fill:#000;stroke:#000;stroke-width:0.25px">80</text>
<text transform="translate(67.70,81.93) scale(1,1.07)" font-size="11.7" text-anchor="end" style="fill:#000;stroke:#000;stroke-width:0.25px">100</text>
<text transform="translate(67.70,44.70) scale(1,1.07)" font-size="11.7" text-anchor="end" style="fill:#000;stroke:#000;stroke-width:0.25px">120</text>
<text transform="translate(231.20,303.40) scale(1,1.07)" font-size="11.7" text-anchor="middle" style="fill:#000;stroke:#000;stroke-width:0.25px">Time</text>
<g transform="translate(34.8,171.8) rotate(-90)"><text transform="translate(3.85,0.00) scale(0.93,1.16)" font-size="11.7" text-anchor="middle" style="fill:#000;stroke:#000;stroke-width:0.25px">Φ</text><text transform="translate(11.65,3.00) scale(1.0,1.07)" font-size="7.3" text-anchor="middle" style="fill:#000;stroke:#000;stroke-width:0.25px">inj</text><text transform="translate(24.05,0.00) scale(1.0,1.07)" font-size="11.7" text-anchor="middle" style="fill:#000;stroke:#000;stroke-width:0.25px">=</text><text transform="translate(36.40,0.00) scale(0.93,1.16)" font-size="11.7" text-anchor="middle" style="fill:#000;stroke:#000;stroke-width:0.25px">Φ</text><text transform="translate(46.10,0.00) scale(1.0,1.07)" font-size="11.7" text-anchor="middle" style="fill:#000;stroke:#000;stroke-width:0.25px">-</text><text transform="translate(55.55,0.00) scale(0.93,1.16)" font-size="11.7" text-anchor="middle" style="fill:#000;stroke:#000;stroke-width:0.25px">Φ</text><text transform="translate(63.75,3.00) scale(1.0,1.07)" font-size="7.3" text-anchor="middle" style="fill:#000;stroke:#000;stroke-width:0.25px">ini</text></g>
<path d="M284.9,174.10 H325.9" stroke="#ff0000" stroke-width="2.3" fill="none" stroke-dasharray="4.7 3.45"/>
<text transform="translate(330.50,177.40) scale(1,1.07)" font-size="8.9" text-anchor="start" style="fill:#ff0000;stroke:#ff0000;stroke-width:0.25px">Erupt SD</text>
<path d="M284.9,186.37 H325.9" stroke="#ff8000" stroke-width="2.3" fill="none" stroke-dasharray="6.3 1.9 1.2 1.8 1.2 1.8 1.2 1.9"/>
<text transform="translate(330.50,189.67) scale(1,1.07)" font-size="8.9" text-anchor="start" style="fill:#ff8000;stroke:#ff8000;stroke-width:0.25px">Erupt MD</text>
<path d="M284.9,198.64 H325.9" stroke="#ffe600" stroke-width="2.3" fill="none" stroke-dasharray="4.6 1.7 1.2 1.7"/>
<text transform="translate(330.50,201.94) scale(1,1.07)" font-size="8.9" text-anchor="start" style="fill:#ffe600;stroke:#ffe600;stroke-width:0.25px">Erupt WD</text>
<path d="M284.9,210.91 H325.9" stroke="#00dcff" stroke-width="2.3" fill="none" stroke-dasharray="4.7 3.45"/>
<text transform="translate(330.50,214.21) scale(1,1.07)" font-size="8.9" text-anchor="start" style="fill:#00dcff;stroke:#00dcff;stroke-width:0.25px">No Erupt WD</text>
<path d="M284.9,223.18 H325.9" stroke="#0040ff" stroke-width="2.3" fill="none" stroke-dasharray="6.3 1.9 1.2 1.8 1.2 1.8 1.2 1.9"/>
<text transform="translate(330.50,226.48) scale(1,1.07)" font-size="8.9" text-anchor="start" style="fill:#0040ff;stroke:#0040ff;stroke-width:0.25px">No Erupt MD</text>
<path d="M284.9,235.45 H325.9" stroke="#5a00a8" stroke-width="2.3" fill="none" stroke-dasharray="4.6 1.7 1.2 1.7"/>
<text transform="translate(330.50,238.75) scale(1,1.07)" font-size="8.9" text-anchor="start" style="fill:#5a00a8;stroke:#5a00a8;stroke-width:0.25px">No Erupt SD</text>
<path d="M284.9,247.72 H325.9" stroke="#000000" stroke-width="2.3" fill="none"/>
<text transform="translate(330.50,251.02) scale(1,1.07)" font-size="8.9" text-anchor="start" style="fill:#000000;stroke:#000000;stroke-width:0.25px">No Erupt ND</text>
</svg></body></html>
